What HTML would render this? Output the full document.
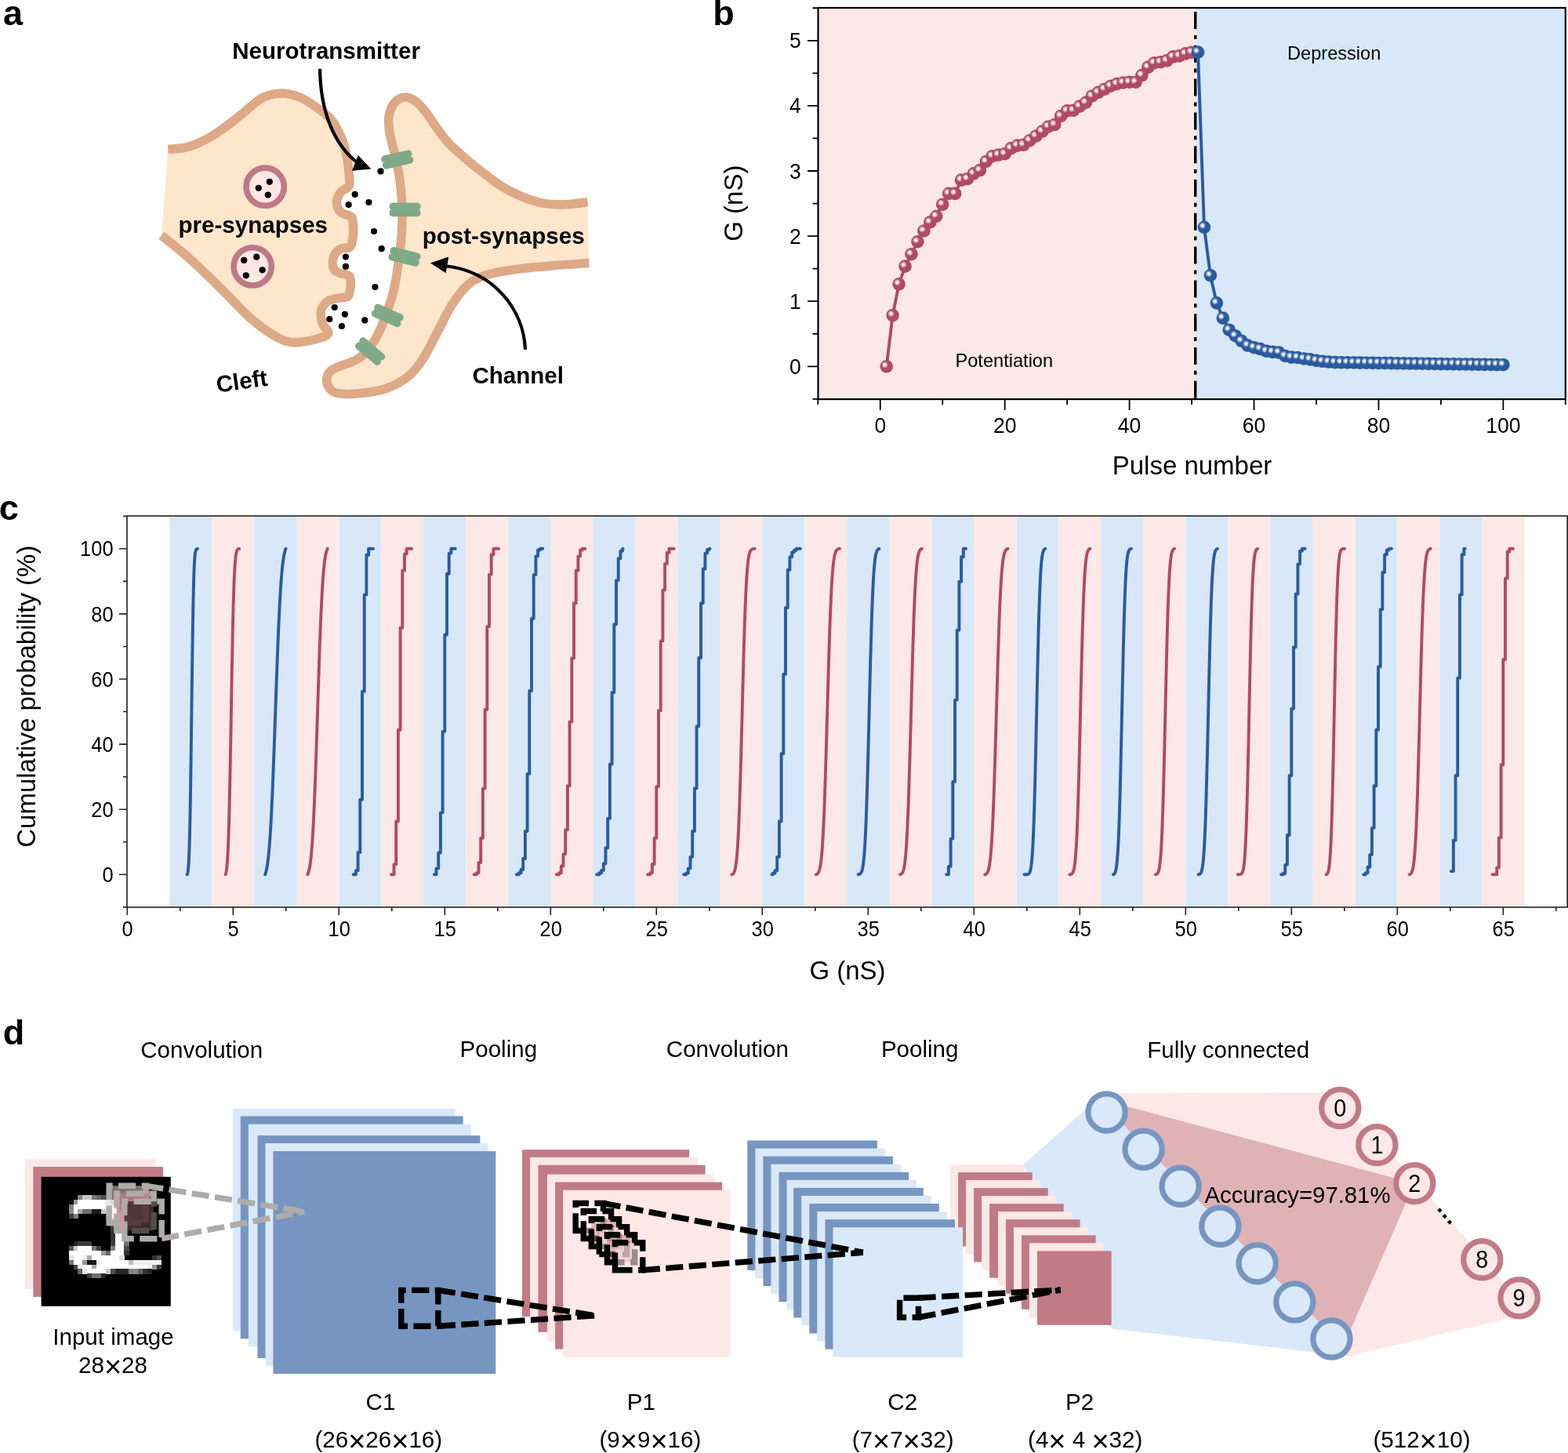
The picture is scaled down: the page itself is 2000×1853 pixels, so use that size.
<!DOCTYPE html>
<html lang="en">
<head>
<meta charset="utf-8">
<title>Figure</title>
<style>
html,body{margin:0;padding:0;background:#fff;}
body{width:2000px;height:1853px;overflow:hidden;}
svg{display:block;}
svg text{font-family:"Liberation Sans", Arial, Helvetica, sans-serif;fill:#000;}
</style>
</head>
<body>
<svg xmlns="http://www.w3.org/2000/svg" width="2000" height="1853" viewBox="0 0 2000 1853">
<defs>
<radialGradient id="gr" cx="0.37" cy="0.375" r="0.56" fx="0.37" fy="0.375">
<stop offset="0" stop-color="#ffffff"/><stop offset="0.13" stop-color="#fdf4f6"/><stop offset="0.3" stop-color="#d9a0ae"/><stop offset="0.48" stop-color="#B04A64"/><stop offset="1" stop-color="#B04A64"/>
</radialGradient>
<radialGradient id="gb" cx="0.37" cy="0.375" r="0.56" fx="0.37" fy="0.375">
<stop offset="0" stop-color="#ffffff"/><stop offset="0.13" stop-color="#f3f6fb"/><stop offset="0.3" stop-color="#93aad0"/><stop offset="0.48" stop-color="#2A5A9F"/><stop offset="1" stop-color="#2A5A9F"/>
</radialGradient>
<filter id="blur" x="-5%" y="-5%" width="110%" height="110%"><feGaussianBlur stdDeviation="0.55"/></filter>
<clipPath id="clipimg"><rect x="52.6" y="1500.8" width="165.2" height="165"/></clipPath>
</defs>
<rect x="0" y="0" width="2000" height="1853" fill="#fff"/>
<g id="panel-a">
<path d="M749.5,257.6C745.58,258.1 733.48,260.1 726,260.6C718.52,261.1 710.77,260.98 704.6,260.6C698.43,260.22 694.03,259.38 689,258.3C683.97,257.22 679.23,255.78 674.4,254.1C669.57,252.42 664.8,250.37 660,248.2C655.2,246.03 650.43,243.87 645.6,241.1C640.77,238.33 635.8,235 631,231.6C626.2,228.2 621.63,224.42 616.8,220.7C611.97,216.98 606.73,213.17 602,209.3C597.27,205.43 592.15,200.8 588.4,197.5C584.65,194.2 582.37,192.18 579.5,189.5C576.63,186.82 573.78,184.23 571.2,181.4C568.62,178.57 566.33,175.53 564,172.5C561.67,169.47 559.28,166.12 557.2,163.2C555.12,160.28 553.37,157.7 551.5,155C549.63,152.3 547.67,149.33 546,147C544.33,144.67 543.03,142.93 541.5,141C539.97,139.07 538.42,137.17 536.8,135.4C535.18,133.63 533.55,131.85 531.8,130.4C530.05,128.95 528.02,127.65 526.3,126.7C524.58,125.75 523.13,125.15 521.5,124.7C519.87,124.25 518,124.02 516.5,124C515,123.98 513.78,124.2 512.5,124.6C511.22,125 510,125.68 508.8,126.4C507.6,127.12 506.35,127.97 505.3,128.9C504.25,129.83 503.47,130.68 502.5,132C501.53,133.32 500.33,135.12 499.5,136.8C498.67,138.48 498.08,140.07 497.5,142.1C496.92,144.13 496.3,146.67 496,149C495.7,151.33 495.57,152.93 495.7,156.1C495.83,159.27 496.07,163.5 496.8,168C497.53,172.5 498.58,176.7 500.1,183.1C501.62,189.5 504.17,197.87 505.9,206.4C507.63,214.93 509.33,224.62 510.5,234.3C511.67,243.98 512.62,253.65 512.9,264.5C513.18,275.35 512.98,287.75 512.2,299.4C511.42,311.05 509.83,322.75 508.2,334.4C506.57,346.05 504.92,358.45 502.4,369.3C499.88,380.15 496.58,389.82 493.1,399.5C489.62,409.18 485.77,419.25 481.5,427.4C477.23,435.55 472.17,443.05 467.5,448.4C462.83,453.75 458.93,456.48 453.5,459.5C448.07,462.52 440.23,464.25 434.9,466.5C429.57,468.75 424.55,470.03 421.5,473C418.45,475.97 416.8,480.6 416.6,484.3C416.4,488 418.02,492.35 420.3,495.2C422.58,498.05 423.98,500.3 430.3,501.4C436.62,502.5 447.73,502.82 458.2,501.8C468.67,500.78 482.63,498.97 493.1,495.3C503.57,491.63 513.25,486.07 521,479.8C528.75,473.53 533.38,467.2 539.6,457.7C545.82,448.2 552.08,434.43 558.3,422.8C564.52,411.17 570.32,397.98 576.9,387.9C583.48,377.82 590.43,368.52 597.8,362.3C605.17,356.08 611.4,353.7 621.1,350.6C630.8,347.5 642.43,345.63 656,343.7C669.57,341.77 686.6,340.37 702.5,339C718.4,337.63 743.25,336.08 751.4,335.5Z" fill="#FEE6CB" stroke="none"/>
<path d="M749.5,257.6C745.58,258.1 733.48,260.1 726,260.6C718.52,261.1 710.77,260.98 704.6,260.6C698.43,260.22 694.03,259.38 689,258.3C683.97,257.22 679.23,255.78 674.4,254.1C669.57,252.42 664.8,250.37 660,248.2C655.2,246.03 650.43,243.87 645.6,241.1C640.77,238.33 635.8,235 631,231.6C626.2,228.2 621.63,224.42 616.8,220.7C611.97,216.98 606.73,213.17 602,209.3C597.27,205.43 592.15,200.8 588.4,197.5C584.65,194.2 582.37,192.18 579.5,189.5C576.63,186.82 573.78,184.23 571.2,181.4C568.62,178.57 566.33,175.53 564,172.5C561.67,169.47 559.28,166.12 557.2,163.2C555.12,160.28 553.37,157.7 551.5,155C549.63,152.3 547.67,149.33 546,147C544.33,144.67 543.03,142.93 541.5,141C539.97,139.07 538.42,137.17 536.8,135.4C535.18,133.63 533.55,131.85 531.8,130.4C530.05,128.95 528.02,127.65 526.3,126.7C524.58,125.75 523.13,125.15 521.5,124.7C519.87,124.25 518,124.02 516.5,124C515,123.98 513.78,124.2 512.5,124.6C511.22,125 510,125.68 508.8,126.4C507.6,127.12 506.35,127.97 505.3,128.9C504.25,129.83 503.47,130.68 502.5,132C501.53,133.32 500.33,135.12 499.5,136.8C498.67,138.48 498.08,140.07 497.5,142.1C496.92,144.13 496.3,146.67 496,149C495.7,151.33 495.57,152.93 495.7,156.1C495.83,159.27 496.07,163.5 496.8,168C497.53,172.5 498.58,176.7 500.1,183.1C501.62,189.5 504.17,197.87 505.9,206.4C507.63,214.93 509.33,224.62 510.5,234.3C511.67,243.98 512.62,253.65 512.9,264.5C513.18,275.35 512.98,287.75 512.2,299.4C511.42,311.05 509.83,322.75 508.2,334.4C506.57,346.05 504.92,358.45 502.4,369.3C499.88,380.15 496.58,389.82 493.1,399.5C489.62,409.18 485.77,419.25 481.5,427.4C477.23,435.55 472.17,443.05 467.5,448.4C462.83,453.75 458.93,456.48 453.5,459.5C448.07,462.52 440.23,464.25 434.9,466.5C429.57,468.75 424.55,470.03 421.5,473C418.45,475.97 416.8,480.6 416.6,484.3C416.4,488 418.02,492.35 420.3,495.2C422.58,498.05 423.98,500.3 430.3,501.4C436.62,502.5 447.73,502.82 458.2,501.8C468.67,500.78 482.63,498.97 493.1,495.3C503.57,491.63 513.25,486.07 521,479.8C528.75,473.53 533.38,467.2 539.6,457.7C545.82,448.2 552.08,434.43 558.3,422.8C564.52,411.17 570.32,397.98 576.9,387.9C583.48,377.82 590.43,368.52 597.8,362.3C605.17,356.08 611.4,353.7 621.1,350.6C630.8,347.5 642.43,345.63 656,343.7C669.57,341.77 686.6,340.37 702.5,339C718.4,337.63 743.25,336.08 751.4,335.5" fill="none" stroke="#DDA986" stroke-width="11.5" stroke-linecap="butt" stroke-linejoin="round"/>
<path d="M214.4,190.4C218.68,189.88 230.82,190.1 240.1,187.3C249.38,184.5 260.1,179.43 270.1,173.6C280.1,167.77 290.08,159.98 300.1,152.3C310.12,144.62 322.72,132.72 330.2,127.5C337.68,122.28 340,122.42 345,121C350,119.58 355.2,118.92 360.2,119C365.2,119.08 369.98,120 375,121.5C380.02,123 382.75,123.23 390.3,128C397.85,132.77 413.18,143.1 420.3,150.1C427.42,157.1 429.83,164.02 433,170C436.17,175.98 437.63,180.5 439.3,186C440.97,191.5 442.08,197.87 443,203C443.92,208.13 444.33,212.2 444.8,216.8C445.27,221.4 445.63,227.4 445.8,230.6C445.97,233.8 446.27,234.52 445.8,236C445.33,237.48 444.77,238.1 443,239.5C441.23,240.9 437.35,242.05 435.2,244.4C433.05,246.75 430.95,250.53 430.1,253.6C429.25,256.67 429.25,259.88 430.1,262.8C430.95,265.72 432.82,269.12 435.2,271.1C437.58,273.08 442.1,273.63 444.4,274.7C446.7,275.77 448,275.65 449,277.5C450,279.35 450.1,282.88 450.4,285.8C450.7,288.72 450.88,291.93 450.8,295C450.72,298.07 450.28,301.45 449.9,304.2C449.52,306.95 449.42,309.52 448.5,311.5C447.58,313.48 446.32,315.28 444.4,316.1C442.48,316.92 439.45,315.63 437,316.4C434.55,317.17 431.68,318.6 429.7,320.7C427.72,322.8 425.95,326.08 425.1,329C424.25,331.92 424.3,335.6 424.6,338.2C424.9,340.8 425.45,342.92 426.9,344.6C428.35,346.28 430.95,347.4 433.3,348.3C435.65,349.2 438.83,349.13 441,350C443.17,350.87 445.25,351.12 446.3,353.5C447.35,355.88 447.43,360.88 447.3,364.3C447.17,367.72 446.3,371.58 445.5,374C444.7,376.42 445.03,377.75 442.5,378.8C439.97,379.85 434.05,379.6 430.3,380.3C426.55,381 422.67,381.82 420,383C417.33,384.18 416,385.4 414.3,387.4C412.6,389.4 410.63,392.5 409.8,395C408.97,397.5 409.18,399.9 409.3,402.4C409.42,404.9 409.83,407.67 410.5,410C411.17,412.33 412.05,414.4 413.3,416.4C414.55,418.4 417.17,420.4 418,422C418.83,423.6 419.58,424.6 418.3,426C417.02,427.4 414.97,428.83 410.3,430.4C405.63,431.97 396.98,434.4 390.3,435.4C383.62,436.4 376.88,437.57 370.2,436.4C363.52,435.23 358.53,433.4 350.2,428.4C341.87,423.4 331.88,416.75 320.2,406.4C308.52,396.05 293.45,379.32 280.1,366.3C266.75,353.28 252.45,339.3 240.1,328.3C227.75,317.3 211.68,304.97 206,300.3Z" fill="#FEE6CB" stroke="none"/>
<path d="M214.4,190.4C218.68,189.88 230.82,190.1 240.1,187.3C249.38,184.5 260.1,179.43 270.1,173.6C280.1,167.77 290.08,159.98 300.1,152.3C310.12,144.62 322.72,132.72 330.2,127.5C337.68,122.28 340,122.42 345,121C350,119.58 355.2,118.92 360.2,119C365.2,119.08 369.98,120 375,121.5C380.02,123 382.75,123.23 390.3,128C397.85,132.77 413.18,143.1 420.3,150.1C427.42,157.1 429.83,164.02 433,170C436.17,175.98 437.63,180.5 439.3,186C440.97,191.5 442.08,197.87 443,203C443.92,208.13 444.33,212.2 444.8,216.8C445.27,221.4 445.63,227.4 445.8,230.6C445.97,233.8 446.27,234.52 445.8,236C445.33,237.48 444.77,238.1 443,239.5C441.23,240.9 437.35,242.05 435.2,244.4C433.05,246.75 430.95,250.53 430.1,253.6C429.25,256.67 429.25,259.88 430.1,262.8C430.95,265.72 432.82,269.12 435.2,271.1C437.58,273.08 442.1,273.63 444.4,274.7C446.7,275.77 448,275.65 449,277.5C450,279.35 450.1,282.88 450.4,285.8C450.7,288.72 450.88,291.93 450.8,295C450.72,298.07 450.28,301.45 449.9,304.2C449.52,306.95 449.42,309.52 448.5,311.5C447.58,313.48 446.32,315.28 444.4,316.1C442.48,316.92 439.45,315.63 437,316.4C434.55,317.17 431.68,318.6 429.7,320.7C427.72,322.8 425.95,326.08 425.1,329C424.25,331.92 424.3,335.6 424.6,338.2C424.9,340.8 425.45,342.92 426.9,344.6C428.35,346.28 430.95,347.4 433.3,348.3C435.65,349.2 438.83,349.13 441,350C443.17,350.87 445.25,351.12 446.3,353.5C447.35,355.88 447.43,360.88 447.3,364.3C447.17,367.72 446.3,371.58 445.5,374C444.7,376.42 445.03,377.75 442.5,378.8C439.97,379.85 434.05,379.6 430.3,380.3C426.55,381 422.67,381.82 420,383C417.33,384.18 416,385.4 414.3,387.4C412.6,389.4 410.63,392.5 409.8,395C408.97,397.5 409.18,399.9 409.3,402.4C409.42,404.9 409.83,407.67 410.5,410C411.17,412.33 412.05,414.4 413.3,416.4C414.55,418.4 417.17,420.4 418,422C418.83,423.6 419.58,424.6 418.3,426C417.02,427.4 414.97,428.83 410.3,430.4C405.63,431.97 396.98,434.4 390.3,435.4C383.62,436.4 376.88,437.57 370.2,436.4C363.52,435.23 358.53,433.4 350.2,428.4C341.87,423.4 331.88,416.75 320.2,406.4C308.52,396.05 293.45,379.32 280.1,366.3C266.75,353.28 252.45,339.3 240.1,328.3C227.75,317.3 211.68,304.97 206,300.3" fill="none" stroke="#DDA986" stroke-width="11.5" stroke-linecap="butt" stroke-linejoin="round"/>
<circle cx="338.2" cy="238.2" r="24.1" fill="#FCE7E5" stroke="#BD7A86" stroke-width="7.6"/>
<circle cx="343.8" cy="231.8" r="4.1"/>
<circle cx="329.8" cy="239.8" r="4.1"/>
<circle cx="341.8" cy="248.6" r="4.1"/>
<circle cx="322.2" cy="339.9" r="24.1" fill="#FCE7E5" stroke="#BD7A86" stroke-width="7.6"/>
<circle cx="327.2" cy="327.7" r="4.1"/>
<circle cx="311.2" cy="331.9" r="4.1"/>
<circle cx="334.6" cy="344.3" r="4.1"/>
<circle cx="313.8" cy="351.3" r="4.1"/>
<circle cx="485.5" cy="218.4" r="4.1"/>
<circle cx="452.7" cy="247.9" r="4.1"/>
<circle cx="444.7" cy="261.1" r="4.1"/>
<circle cx="470.4" cy="258" r="4.1"/>
<circle cx="477" cy="295" r="4.1"/>
<circle cx="486.7" cy="317.2" r="4.1"/>
<circle cx="440.9" cy="327.6" r="4.1"/>
<circle cx="440.9" cy="339.9" r="4.1"/>
<circle cx="478.4" cy="366" r="4.1"/>
<circle cx="426.7" cy="392" r="4.1"/>
<circle cx="439.9" cy="400.8" r="4.1"/>
<circle cx="420.3" cy="407" r="4.1"/>
<circle cx="435.9" cy="416" r="4.1"/>
<circle cx="465.3" cy="408.4" r="4.1"/>
<g transform="translate(506.7 203.5) rotate(-13)" fill="#7EAA87"><rect x="-20" y="-8.8" width="40" height="9.4" rx="4.4"/><rect x="-20" y="-0.6" width="40" height="9.4" rx="4.4"/></g>
<g transform="translate(516.6 267.4) rotate(0)" fill="#7EAA87"><rect x="-20" y="-8.8" width="40" height="9.4" rx="4.4"/><rect x="-20" y="-0.6" width="40" height="9.4" rx="4.4"/></g>
<g transform="translate(516.1 327.4) rotate(14)" fill="#7EAA87"><rect x="-20" y="-8.8" width="40" height="9.4" rx="4.4"/><rect x="-20" y="-0.6" width="40" height="9.4" rx="4.4"/></g>
<g transform="translate(494.3 402.3) rotate(24)" fill="#7EAA87"><rect x="-20" y="-8.8" width="40" height="9.4" rx="4.4"/><rect x="-20" y="-0.6" width="40" height="9.4" rx="4.4"/></g>
<g transform="translate(472.1 448.1) rotate(40)" fill="#7EAA87"><rect x="-20" y="-8.8" width="40" height="9.4" rx="4.4"/><rect x="-20" y="-0.6" width="40" height="9.4" rx="4.4"/></g>
<path d="M408.1,87.8C408.5,140 425,185 458,209" fill="none" stroke="#000" stroke-width="4.2"/>
<path d="M473.4,215.4L456.8,197.9L449,217.7Z" fill="#000"/>
<path d="M670,445.8C668,395 630,345 566,339" fill="none" stroke="#000" stroke-width="4.2"/>
<path d="M549,335.5L572.2,327.4L568.7,348.3Z" fill="#000"/>
<text x="296.2" y="74.6" font-size="29.55" font-weight="bold">Neurotransmitter</text>
<text x="227.5" y="297.2" font-size="29.55" font-weight="bold">pre-synapses</text>
<text x="538.7" y="311" font-size="29.55" font-weight="bold">post-synapses</text>
<text x="602.4" y="488.7" font-size="29.55" font-weight="bold">Channel</text>
<text x="277.2" y="500.7" font-size="29.55" font-weight="bold" transform="rotate(-8 277.2 500.7)">Cleft</text>
</g>
<g id="panel-b">
<rect x="1043.5" y="10" width="481.9" height="499.1" fill="#FCE8E7"/>
<rect x="1525.4" y="10" width="471.4" height="499.1" fill="#D8E8F8"/>
<line x1="1524.7" y1="10" x2="1524.7" y2="509.1" stroke="#000" stroke-width="3.4" stroke-dasharray="22 7.8 5 8" stroke-dashoffset="37.8"/>
<polyline fill="none" stroke="#B04A64" stroke-width="3.9" stroke-linejoin="round" points="1130.71,467.3 1138.65,402.07 1146.6,362.26 1154.54,339.58 1162.49,324.2 1170.44,308.25 1178.38,294.45 1186.33,283.4 1194.27,275.75 1202.22,260.71 1210.17,246.92 1218.11,246.92 1226.06,229.63 1234,228.22 1241.95,221.32 1249.9,217.17 1257.84,205.95 1265.79,199.22 1273.73,197.47 1281.68,196.23 1289.63,189.16 1297.57,185.59 1305.52,184.76 1313.46,179.19 1321.41,173.46 1329.36,167.56 1337.3,161.49 1345.25,159 1353.19,147.95 1361.14,141.3 1369.09,140.8 1377.03,135.56 1384.98,130.75 1392.92,122.44 1400.87,117.78 1408.82,113.71 1416.76,109.72 1424.71,106.98 1432.65,105.48 1440.6,104.73 1448.55,104.73 1456.49,96.01 1464.44,85.62 1472.38,80.22 1480.33,79.22 1488.28,77.39 1496.22,72.41 1504.17,71.41 1512.11,68.42 1520.06,66.76"/>
<circle cx="1130.71" cy="467.3" r="8.3" fill="url(#gr)"/>
<circle cx="1138.65" cy="402.07" r="8.3" fill="url(#gr)"/>
<circle cx="1146.6" cy="362.26" r="8.3" fill="url(#gr)"/>
<circle cx="1154.54" cy="339.58" r="8.3" fill="url(#gr)"/>
<circle cx="1162.49" cy="324.2" r="8.3" fill="url(#gr)"/>
<circle cx="1170.44" cy="308.25" r="8.3" fill="url(#gr)"/>
<circle cx="1178.38" cy="294.45" r="8.3" fill="url(#gr)"/>
<circle cx="1186.33" cy="283.4" r="8.3" fill="url(#gr)"/>
<circle cx="1194.27" cy="275.75" r="8.3" fill="url(#gr)"/>
<circle cx="1202.22" cy="260.71" r="8.3" fill="url(#gr)"/>
<circle cx="1210.17" cy="246.92" r="8.3" fill="url(#gr)"/>
<circle cx="1218.11" cy="246.92" r="8.3" fill="url(#gr)"/>
<circle cx="1226.06" cy="229.63" r="8.3" fill="url(#gr)"/>
<circle cx="1234" cy="228.22" r="8.3" fill="url(#gr)"/>
<circle cx="1241.95" cy="221.32" r="8.3" fill="url(#gr)"/>
<circle cx="1249.9" cy="217.17" r="8.3" fill="url(#gr)"/>
<circle cx="1257.84" cy="205.95" r="8.3" fill="url(#gr)"/>
<circle cx="1265.79" cy="199.22" r="8.3" fill="url(#gr)"/>
<circle cx="1273.73" cy="197.47" r="8.3" fill="url(#gr)"/>
<circle cx="1281.68" cy="196.23" r="8.3" fill="url(#gr)"/>
<circle cx="1289.63" cy="189.16" r="8.3" fill="url(#gr)"/>
<circle cx="1297.57" cy="185.59" r="8.3" fill="url(#gr)"/>
<circle cx="1305.52" cy="184.76" r="8.3" fill="url(#gr)"/>
<circle cx="1313.46" cy="179.19" r="8.3" fill="url(#gr)"/>
<circle cx="1321.41" cy="173.46" r="8.3" fill="url(#gr)"/>
<circle cx="1329.36" cy="167.56" r="8.3" fill="url(#gr)"/>
<circle cx="1337.3" cy="161.49" r="8.3" fill="url(#gr)"/>
<circle cx="1345.25" cy="159" r="8.3" fill="url(#gr)"/>
<circle cx="1353.19" cy="147.95" r="8.3" fill="url(#gr)"/>
<circle cx="1361.14" cy="141.3" r="8.3" fill="url(#gr)"/>
<circle cx="1369.09" cy="140.8" r="8.3" fill="url(#gr)"/>
<circle cx="1377.03" cy="135.56" r="8.3" fill="url(#gr)"/>
<circle cx="1384.98" cy="130.75" r="8.3" fill="url(#gr)"/>
<circle cx="1392.92" cy="122.44" r="8.3" fill="url(#gr)"/>
<circle cx="1400.87" cy="117.78" r="8.3" fill="url(#gr)"/>
<circle cx="1408.82" cy="113.71" r="8.3" fill="url(#gr)"/>
<circle cx="1416.76" cy="109.72" r="8.3" fill="url(#gr)"/>
<circle cx="1424.71" cy="106.98" r="8.3" fill="url(#gr)"/>
<circle cx="1432.65" cy="105.48" r="8.3" fill="url(#gr)"/>
<circle cx="1440.6" cy="104.73" r="8.3" fill="url(#gr)"/>
<circle cx="1448.55" cy="104.73" r="8.3" fill="url(#gr)"/>
<circle cx="1456.49" cy="96.01" r="8.3" fill="url(#gr)"/>
<circle cx="1464.44" cy="85.62" r="8.3" fill="url(#gr)"/>
<circle cx="1472.38" cy="80.22" r="8.3" fill="url(#gr)"/>
<circle cx="1480.33" cy="79.22" r="8.3" fill="url(#gr)"/>
<circle cx="1488.28" cy="77.39" r="8.3" fill="url(#gr)"/>
<circle cx="1496.22" cy="72.41" r="8.3" fill="url(#gr)"/>
<circle cx="1504.17" cy="71.41" r="8.3" fill="url(#gr)"/>
<circle cx="1512.11" cy="68.42" r="8.3" fill="url(#gr)"/>
<circle cx="1520.06" cy="66.76" r="8.3" fill="url(#gr)"/>
<polyline fill="none" stroke="#2A5A9F" stroke-width="3.9" stroke-linejoin="round" points="1528.01,66.51 1535.95,289.8 1543.9,351.21 1551.84,386.36 1559.79,405.64 1567.74,420.68 1575.68,428.24 1583.63,434.81 1591.57,440.54 1599.52,443.2 1607.47,445.03 1615.41,447.77 1623.36,448.85 1631.3,449.52 1639.25,454 1647.2,455.58 1655.14,456 1663.09,457.49 1671.03,458.33 1678.98,459.82 1686.93,460.82 1694.87,461.57 1702.82,462.15 1710.76,462.26 1718.71,462.38 1726.66,462.49 1734.6,462.6 1742.55,462.72 1750.49,462.83 1758.44,462.94 1766.39,463.06 1774.33,463.17 1782.28,463.29 1790.22,463.4 1798.17,463.51 1806.12,463.63 1814.06,463.74 1822.01,463.86 1829.95,463.97 1837.9,464.08 1845.85,464.2 1853.79,464.31 1861.74,464.43 1869.68,464.54 1877.63,464.65 1885.58,464.77 1893.52,464.88 1901.47,464.99 1909.41,465.11 1917.36,465.22"/>
<circle cx="1528.01" cy="66.51" r="8.3" fill="url(#gb)"/>
<circle cx="1535.95" cy="289.8" r="8.3" fill="url(#gb)"/>
<circle cx="1543.9" cy="351.21" r="8.3" fill="url(#gb)"/>
<circle cx="1551.84" cy="386.36" r="8.3" fill="url(#gb)"/>
<circle cx="1559.79" cy="405.64" r="8.3" fill="url(#gb)"/>
<circle cx="1567.74" cy="420.68" r="8.3" fill="url(#gb)"/>
<circle cx="1575.68" cy="428.24" r="8.3" fill="url(#gb)"/>
<circle cx="1583.63" cy="434.81" r="8.3" fill="url(#gb)"/>
<circle cx="1591.57" cy="440.54" r="8.3" fill="url(#gb)"/>
<circle cx="1599.52" cy="443.2" r="8.3" fill="url(#gb)"/>
<circle cx="1607.47" cy="445.03" r="8.3" fill="url(#gb)"/>
<circle cx="1615.41" cy="447.77" r="8.3" fill="url(#gb)"/>
<circle cx="1623.36" cy="448.85" r="8.3" fill="url(#gb)"/>
<circle cx="1631.3" cy="449.52" r="8.3" fill="url(#gb)"/>
<circle cx="1639.25" cy="454" r="8.3" fill="url(#gb)"/>
<circle cx="1647.2" cy="455.58" r="8.3" fill="url(#gb)"/>
<circle cx="1655.14" cy="456" r="8.3" fill="url(#gb)"/>
<circle cx="1663.09" cy="457.49" r="8.3" fill="url(#gb)"/>
<circle cx="1671.03" cy="458.33" r="8.3" fill="url(#gb)"/>
<circle cx="1678.98" cy="459.82" r="8.3" fill="url(#gb)"/>
<circle cx="1686.93" cy="460.82" r="8.3" fill="url(#gb)"/>
<circle cx="1694.87" cy="461.57" r="8.3" fill="url(#gb)"/>
<circle cx="1702.82" cy="462.15" r="8.3" fill="url(#gb)"/>
<circle cx="1710.76" cy="462.26" r="8.3" fill="url(#gb)"/>
<circle cx="1718.71" cy="462.38" r="8.3" fill="url(#gb)"/>
<circle cx="1726.66" cy="462.49" r="8.3" fill="url(#gb)"/>
<circle cx="1734.6" cy="462.6" r="8.3" fill="url(#gb)"/>
<circle cx="1742.55" cy="462.72" r="8.3" fill="url(#gb)"/>
<circle cx="1750.49" cy="462.83" r="8.3" fill="url(#gb)"/>
<circle cx="1758.44" cy="462.94" r="8.3" fill="url(#gb)"/>
<circle cx="1766.39" cy="463.06" r="8.3" fill="url(#gb)"/>
<circle cx="1774.33" cy="463.17" r="8.3" fill="url(#gb)"/>
<circle cx="1782.28" cy="463.29" r="8.3" fill="url(#gb)"/>
<circle cx="1790.22" cy="463.4" r="8.3" fill="url(#gb)"/>
<circle cx="1798.17" cy="463.51" r="8.3" fill="url(#gb)"/>
<circle cx="1806.12" cy="463.63" r="8.3" fill="url(#gb)"/>
<circle cx="1814.06" cy="463.74" r="8.3" fill="url(#gb)"/>
<circle cx="1822.01" cy="463.86" r="8.3" fill="url(#gb)"/>
<circle cx="1829.95" cy="463.97" r="8.3" fill="url(#gb)"/>
<circle cx="1837.9" cy="464.08" r="8.3" fill="url(#gb)"/>
<circle cx="1845.85" cy="464.2" r="8.3" fill="url(#gb)"/>
<circle cx="1853.79" cy="464.31" r="8.3" fill="url(#gb)"/>
<circle cx="1861.74" cy="464.43" r="8.3" fill="url(#gb)"/>
<circle cx="1869.68" cy="464.54" r="8.3" fill="url(#gb)"/>
<circle cx="1877.63" cy="464.65" r="8.3" fill="url(#gb)"/>
<circle cx="1885.58" cy="464.77" r="8.3" fill="url(#gb)"/>
<circle cx="1893.52" cy="464.88" r="8.3" fill="url(#gb)"/>
<circle cx="1901.47" cy="464.99" r="8.3" fill="url(#gb)"/>
<circle cx="1909.41" cy="465.11" r="8.3" fill="url(#gb)"/>
<circle cx="1917.36" cy="465.22" r="8.3" fill="url(#gb)"/>
<rect x="1043.5" y="10" width="953.3" height="499.1" fill="none" stroke="#000" stroke-width="2.2"/>
<path d="M1043.5,508.85h-7M1043.5,467.3h-13.5M1043.5,425.75h-7M1043.5,384.2h-13.5M1043.5,342.65h-7M1043.5,301.1h-13.5M1043.5,259.55h-7M1043.5,218h-13.5M1043.5,176.45h-7M1043.5,134.9h-13.5M1043.5,93.35h-7M1043.5,51.8h-13.5M1043.5,10.25h-7M1043.3,509.1v7M1122.76,509.1v13.8M1202.22,509.1v7M1281.68,509.1v13.8M1361.14,509.1v7M1440.6,509.1v13.8M1520.06,509.1v7M1599.52,509.1v13.8M1678.98,509.1v7M1758.44,509.1v13.8M1837.9,509.1v7M1917.36,509.1v13.8M1996.82,509.1v7" stroke="#000" stroke-width="1.8" fill="none"/>
<text transform="translate(1021.7 476.8) scale(0.93 1)" font-size="28.54" text-anchor="end">0</text>
<text transform="translate(1021.7 393.7) scale(0.93 1)" font-size="28.54" text-anchor="end">1</text>
<text transform="translate(1021.7 310.6) scale(0.93 1)" font-size="28.54" text-anchor="end">2</text>
<text transform="translate(1021.7 227.5) scale(0.93 1)" font-size="28.54" text-anchor="end">3</text>
<text transform="translate(1021.7 144.4) scale(0.93 1)" font-size="28.54" text-anchor="end">4</text>
<text transform="translate(1021.7 61.3) scale(0.93 1)" font-size="28.54" text-anchor="end">5</text>
<text transform="translate(1122.76 552.4) scale(0.93 1)" font-size="28.54" text-anchor="middle">0</text>
<text transform="translate(1281.68 552.4) scale(0.93 1)" font-size="28.54" text-anchor="middle">20</text>
<text transform="translate(1440.6 552.4) scale(0.93 1)" font-size="28.54" text-anchor="middle">40</text>
<text transform="translate(1599.52 552.4) scale(0.93 1)" font-size="28.54" text-anchor="middle">60</text>
<text transform="translate(1758.44 552.4) scale(0.93 1)" font-size="28.54" text-anchor="middle">80</text>
<text transform="translate(1917.36 552.4) scale(0.93 1)" font-size="28.54" text-anchor="middle">100</text>
<text x="1520.5" y="604.7" font-size="33" text-anchor="middle">Pulse number</text>
<text x="947.4" y="259.2" font-size="33" text-anchor="middle" transform="rotate(-90 947.4 259.2)">G (nS)</text>
<text x="1218.5" y="468.1" font-size="23.6">Potentiation</text>
<text x="1642" y="76" font-size="23.6">Depression</text>
<text x="4" y="31.9" font-size="45" font-weight="bold">a</text>
<text x="909.2" y="32.4" font-size="45" font-weight="bold">b</text>
</g>
<g id="panel-c">
<rect x="216.4" y="658" width="54.2" height="499" fill="#D8E8F8"/>
<rect x="270.4" y="658" width="54.2" height="499" fill="#FCE8E7"/>
<rect x="324.4" y="658" width="54.2" height="499" fill="#D8E8F8"/>
<rect x="378.4" y="658" width="54.2" height="499" fill="#FCE8E7"/>
<rect x="432.4" y="658" width="54.2" height="499" fill="#D8E8F8"/>
<rect x="486.4" y="658" width="54.2" height="499" fill="#FCE8E7"/>
<rect x="540.4" y="658" width="54.2" height="499" fill="#D8E8F8"/>
<rect x="594.4" y="658" width="54.2" height="499" fill="#FCE8E7"/>
<rect x="648.4" y="658" width="54.2" height="499" fill="#D8E8F8"/>
<rect x="702.4" y="658" width="54.2" height="499" fill="#FCE8E7"/>
<rect x="756.4" y="658" width="54.2" height="499" fill="#D8E8F8"/>
<rect x="810.4" y="658" width="54.2" height="499" fill="#FCE8E7"/>
<rect x="864.4" y="658" width="54.2" height="499" fill="#D8E8F8"/>
<rect x="918.4" y="658" width="54.2" height="499" fill="#FCE8E7"/>
<rect x="972.4" y="658" width="54.2" height="499" fill="#D8E8F8"/>
<rect x="1026.4" y="658" width="54.2" height="499" fill="#FCE8E7"/>
<rect x="1080.4" y="658" width="54.2" height="499" fill="#D8E8F8"/>
<rect x="1134.4" y="658" width="54.2" height="499" fill="#FCE8E7"/>
<rect x="1188.4" y="658" width="54.2" height="499" fill="#D8E8F8"/>
<rect x="1242.4" y="658" width="54.2" height="499" fill="#FCE8E7"/>
<rect x="1296.4" y="658" width="54.2" height="499" fill="#D8E8F8"/>
<rect x="1350.4" y="658" width="54.2" height="499" fill="#FCE8E7"/>
<rect x="1404.4" y="658" width="54.2" height="499" fill="#D8E8F8"/>
<rect x="1458.4" y="658" width="54.2" height="499" fill="#FCE8E7"/>
<rect x="1512.4" y="658" width="54.2" height="499" fill="#D8E8F8"/>
<rect x="1566.4" y="658" width="54.2" height="499" fill="#FCE8E7"/>
<rect x="1620.4" y="658" width="54.2" height="499" fill="#D8E8F8"/>
<rect x="1674.4" y="658" width="54.2" height="499" fill="#FCE8E7"/>
<rect x="1728.4" y="658" width="54.2" height="499" fill="#D8E8F8"/>
<rect x="1782.4" y="658" width="54.2" height="499" fill="#FCE8E7"/>
<rect x="1836.4" y="658" width="54.2" height="499" fill="#D8E8F8"/>
<rect x="1890.4" y="658" width="54.2" height="499" fill="#FCE8E7"/>
<path d="M238.71,1115.3L238.82,1115.05L238.93,1114.76L239.04,1114.44L239.15,1114.06L239.26,1113.64L239.37,1113.15L239.48,1112.6L239.59,1111.98L239.7,1111.29L239.81,1110.5L239.92,1109.63L240.03,1108.65L240.14,1107.55L240.25,1106.34L240.36,1105L240.47,1103.51L240.58,1101.87L240.69,1100.07L240.8,1098.1L240.92,1095.95L241.03,1093.6L241.14,1091.04L241.25,1088.28L241.36,1085.29L241.47,1082.06L241.58,1078.59L241.69,1074.88L241.8,1070.9L241.91,1066.66L242.02,1062.16L242.13,1057.38L242.24,1052.32L242.35,1046.99L242.46,1041.39L242.57,1035.5L242.68,1029.35L242.79,1022.93L242.9,1016.26L243.01,1009.33L243.12,1002.17L243.23,994.77L243.34,987.16L243.45,979.35L243.56,971.36L243.67,963.21L243.78,954.91L243.89,946.49L244,937.96L244.11,929.35L244.22,920.69L244.33,911.99L244.44,903.28L244.55,894.58L244.66,885.93L244.77,877.33L244.88,868.82L244.99,860.41L245.1,852.13L245.21,844L245.32,836.03L245.44,828.25L245.55,820.67L245.66,813.31L245.77,806.17L245.88,799.28L245.99,792.64L246.1,786.26L246.21,780.15L246.32,774.31L246.43,768.74L246.54,763.45L246.65,758.43L246.76,753.69L246.87,749.23L246.98,745.03L247.09,741.09L247.2,737.41L247.31,733.97L247.42,730.78L247.53,727.82L247.64,725.09L247.75,722.57L247.86,720.24L247.97,718.12L248.08,716.17L248.19,714.39L248.3,712.78L248.41,711.32L248.52,709.99L248.63,708.79L248.74,707.72L248.85,706.75L248.96,705.89L249.07,705.12L249.18,704.43L249.29,703.82L249.4,703.29L249.51,702.81L249.62,702.39L249.74,702.02L249.85,701.7L249.96,701.42L250.07,701.18L250.18,700.97L250.29,700.78L250.4,700.62L250.51,700.49L250.62,700.37L250.73,700.27L250.84,700.18L250.95,700.11L251.06,700.05L251.17,700L251.28,699.95L251.39,699.91L251.5,699.88L251.61,699.86L251.72,699.83L251.83,699.82L251.94,699.8" fill="none" stroke="#2A5A9F" stroke-width="3.9" stroke-linecap="round" stroke-linejoin="round"/>
<path d="M287.58,1115.3L287.73,1114.91L287.87,1114.47L288.02,1113.97L288.16,1113.4L288.31,1112.77L288.46,1112.07L288.6,1111.28L288.75,1110.4L288.9,1109.43L289.04,1108.35L289.19,1107.15L289.34,1105.84L289.48,1104.39L289.63,1102.8L289.77,1101.06L289.92,1099.16L290.07,1097.1L290.21,1094.85L290.36,1092.42L290.5,1089.79L290.65,1086.96L290.8,1083.91L290.94,1080.65L291.09,1077.15L291.24,1073.42L291.38,1069.45L291.53,1065.23L291.67,1060.77L291.82,1056.05L291.97,1051.08L292.11,1045.85L292.26,1040.37L292.41,1034.64L292.55,1028.66L292.7,1022.44L292.85,1015.98L292.99,1009.3L293.14,1002.39L293.28,995.27L293.43,987.96L293.58,980.46L293.72,972.8L293.87,964.98L294.01,957.03L294.16,948.96L294.31,940.79L294.45,932.54L294.6,924.23L294.75,915.88L294.89,907.52L295.04,899.15L295.19,890.82L295.33,882.52L295.48,874.3L295.62,866.15L295.77,858.12L295.92,850.2L296.06,842.43L296.21,834.82L296.36,827.38L296.5,820.12L296.65,813.07L296.79,806.23L296.94,799.61L297.09,793.22L297.23,787.08L297.38,781.17L297.52,775.52L297.67,770.12L297.82,764.97L297.96,760.08L298.11,755.44L298.26,751.05L298.4,746.91L298.55,743.01L298.7,739.36L298.84,735.93L298.99,732.73L299.13,729.75L299.28,726.98L299.43,724.42L299.57,722.04L299.72,719.86L299.87,717.84L300.01,715.99L300.16,714.3L300.3,712.76L300.45,711.35L300.6,710.07L300.74,708.91L300.89,707.87L301.04,706.92L301.18,706.07L301.33,705.31L301.47,704.63L301.62,704.02L301.77,703.48L301.91,703L302.06,702.57L302.21,702.2L302.35,701.86L302.5,701.57L302.64,701.31L302.79,701.09L302.94,700.9L303.08,700.72L303.23,700.58L303.38,700.45L303.52,700.34L303.67,700.24L303.81,700.16L303.96,700.09L304.11,700.03L304.25,699.98L304.4,699.94L304.55,699.9L304.69,699.87L304.84,699.84L304.98,699.82L305.13,699.8" fill="none" stroke="#B04A64" stroke-width="3.9" stroke-linecap="round" stroke-linejoin="round"/>
<path d="M338.07,1115.3L338.29,1114.75L338.51,1114.15L338.73,1113.5L338.95,1112.8L339.17,1112.05L339.39,1111.23L339.61,1110.35L339.83,1109.4L340.05,1108.39L340.27,1107.3L340.5,1106.13L340.72,1104.88L340.94,1103.55L341.16,1102.12L341.38,1100.6L341.6,1098.99L341.82,1097.28L342.04,1095.46L342.26,1093.53L342.48,1091.49L342.7,1089.33L342.92,1087.05L343.14,1084.66L343.36,1082.13L343.58,1079.48L343.8,1076.7L344.02,1073.79L344.24,1070.73L344.46,1067.55L344.69,1064.22L344.91,1060.75L345.13,1057.14L345.35,1053.39L345.57,1049.49L345.79,1045.46L346.01,1041.28L346.23,1036.96L346.45,1032.51L346.67,1027.91L346.89,1023.18L347.11,1018.32L347.33,1013.33L347.55,1008.22L347.77,1002.98L347.99,997.63L348.21,992.16L348.43,986.59L348.65,980.92L348.87,975.15L349.1,969.3L349.32,963.36L349.54,957.35L349.76,951.28L349.98,945.14L350.2,938.95L350.42,932.73L350.64,926.46L350.86,920.17L351.08,913.87L351.3,907.55L351.52,901.23L351.74,894.93L351.96,888.64L352.18,882.37L352.4,876.15L352.62,869.96L352.84,863.82L353.06,857.75L353.28,851.74L353.5,845.8L353.73,839.95L353.95,834.18L354.17,828.51L354.39,822.94L354.61,817.47L354.83,812.12L355.05,806.88L355.27,801.77L355.49,796.78L355.71,791.92L355.93,787.19L356.15,782.59L356.37,778.14L356.59,773.82L356.81,769.64L357.03,765.61L357.25,761.71L357.47,757.96L357.69,754.35L357.92,750.88L358.14,747.55L358.36,744.37L358.58,741.31L358.8,738.4L359.02,735.62L359.24,732.97L359.46,730.44L359.68,728.05L359.9,725.77L360.12,723.61L360.34,721.57L360.56,719.64L360.78,717.82L361,716.11L361.22,714.5L361.44,712.98L361.66,711.55L361.88,710.22L362.1,708.97L362.33,707.8L362.55,706.71L362.77,705.7L362.99,704.75L363.21,703.87L363.43,703.05L363.65,702.3L363.87,701.6L364.09,700.95L364.31,700.35L364.53,699.8" fill="none" stroke="#2A5A9F" stroke-width="3.9" stroke-linecap="round" stroke-linejoin="round"/>
<path d="M392.34,1115.3L392.55,1114.86L392.76,1114.38L392.97,1113.86L393.19,1113.29L393.4,1112.66L393.61,1111.99L393.82,1111.25L394.03,1110.45L394.24,1109.58L394.45,1108.65L394.67,1107.64L394.88,1106.55L395.09,1105.38L395.3,1104.12L395.51,1102.76L395.72,1101.31L395.94,1099.76L396.15,1098.11L396.36,1096.34L396.57,1094.46L396.78,1092.46L396.99,1090.34L397.2,1088.09L397.42,1085.71L397.63,1083.19L397.84,1080.54L398.05,1077.74L398.26,1074.79L398.47,1071.7L398.68,1068.46L398.9,1065.07L399.11,1061.52L399.32,1057.81L399.53,1053.95L399.74,1049.94L399.95,1045.76L400.17,1041.43L400.38,1036.94L400.59,1032.3L400.8,1027.51L401.01,1022.56L401.22,1017.48L401.43,1012.24L401.65,1006.87L401.86,1001.37L402.07,995.74L402.28,989.99L402.49,984.12L402.7,978.14L402.92,972.06L403.13,965.89L403.34,959.63L403.55,953.29L403.76,946.89L403.97,940.42L404.18,933.91L404.4,927.35L404.61,920.77L404.82,914.16L405.03,907.55L405.24,900.94L405.45,894.33L405.66,887.75L405.88,881.19L406.09,874.68L406.3,868.21L406.51,861.81L406.72,855.47L406.93,849.21L407.14,843.04L407.36,836.96L407.57,830.98L407.78,825.11L407.99,819.36L408.2,813.73L408.41,808.23L408.63,802.86L408.84,797.62L409.05,792.54L409.26,787.59L409.47,782.8L409.68,778.16L409.89,773.67L410.11,769.34L410.32,765.16L410.53,761.15L410.74,757.29L410.95,753.58L411.16,750.03L411.38,746.64L411.59,743.4L411.8,740.31L412.01,737.36L412.22,734.56L412.43,731.91L412.64,729.39L412.86,727.01L413.07,724.76L413.28,722.64L413.49,720.64L413.7,718.76L413.91,716.99L414.12,715.34L414.34,713.79L414.55,712.34L414.76,710.98L414.97,709.72L415.18,708.55L415.39,707.46L415.61,706.45L415.82,705.52L416.03,704.65L416.24,703.85L416.45,703.11L416.66,702.44L416.87,701.81L417.09,701.24L417.3,700.72L417.51,700.24L417.72,699.8" fill="none" stroke="#B04A64" stroke-width="3.9" stroke-linecap="round" stroke-linejoin="round"/>
<path d="M450.66,1115.3H453.9V1110.31H456.6V1087.05H459.3V1019.73H462V881.79H464.7V758.39H467.4V707.69H470.1V699.8H476.04" fill="none" stroke="#2A5A9F" stroke-width="3.9" stroke-linecap="round" stroke-linejoin="round"/>
<path d="M498.99,1115.3H502.5V1102.42H505.2V1047.57H507.9V930.82H510.6V800.77H513.3V727.64H516V706.45H518.7V699.8H525.18" fill="none" stroke="#B04A64" stroke-width="3.9" stroke-linecap="round" stroke-linejoin="round"/>
<path d="M553.8,1115.3H556.5V1107.41H559.2V1087.46H561.9V1036.36H564.6V932.9H567.3V809.49H570V731.79H572.7V705.62H575.4V699.8H580.8" fill="none" stroke="#2A5A9F" stroke-width="3.9" stroke-linecap="round" stroke-linejoin="round"/>
<path d="M604.56,1115.3H607.8V1113.22H610.5V1099.93H613.2V1068.76H615.9V1005.61H618.6V905.06H621.3V799.1H624V732.62H626.7V707.28H629.4V699.8H636.15" fill="none" stroke="#B04A64" stroke-width="3.9" stroke-linecap="round" stroke-linejoin="round"/>
<path d="M658.83,1115.3H661.8V1113.22H664.5V1109.07H667.2V1094.94H669.9V1060.04H672.6V986.91H675.3V880.96H678V788.72H680.7V733.04H683.4V709.36H686.1V701.46H688.8V699.8H692.31" fill="none" stroke="#2A5A9F" stroke-width="3.9" stroke-linecap="round" stroke-linejoin="round"/>
<path d="M709.86,1115.3H713.1V1113.22H715.8V1104.5H718.5V1089.12H721.2V1058.38H723.9V1002.28H726.6V920.43H729.3V839.41H732V769.19H734.7V727.64H737.4V709.36H740.1V701.46H742.8V699.8H746.31" fill="none" stroke="#B04A64" stroke-width="3.9" stroke-linecap="round" stroke-linejoin="round"/>
<path d="M761.16,1115.3H764.4V1113.22H767.1V1109.9H769.8V1101.17H772.5V1081.23H775.2V1043.83H777.9V974.45H780.6V883.04H783.3V796.2H786V740.1H788.7V712.26H791.4V702.71H794.1V699.8H794.64" fill="none" stroke="#2A5A9F" stroke-width="3.9" stroke-linecap="round" stroke-linejoin="round"/>
<path d="M826.23,1115.3H829.2V1113.22H831.9V1102H834.6V1068.76H837.3V1003.12H840V906.3H842.7V817.39H845.4V752.57H848.1V718.91H850.8V704.79H853.5V699.8H859.71" fill="none" stroke="#B04A64" stroke-width="3.9" stroke-linecap="round" stroke-linejoin="round"/>
<path d="M872.13,1115.3H875.1V1113.64H877.8V1107.41H880.5V1092.86H883.2V1060.04H885.9V1005.19H888.6V926.25H891.3V838.99H894V769.19H896.7V725.56H899.4V705.62H902.1V701.05H904.8V699.8H905.61" fill="none" stroke="#2A5A9F" stroke-width="3.9" stroke-linecap="round" stroke-linejoin="round"/>
<path d="M933.42,1115.3L933.66,1115.22L933.91,1115.11L934.15,1115L934.39,1114.85L934.63,1114.69L934.88,1114.49L935.12,1114.27L935.36,1114L935.61,1113.69L935.85,1113.33L936.09,1112.92L936.34,1112.45L936.58,1111.9L936.82,1111.28L937.07,1110.56L937.31,1109.75L937.55,1108.84L937.79,1107.8L938.04,1106.64L938.28,1105.33L938.52,1103.87L938.77,1102.25L939.01,1100.44L939.25,1098.44L939.5,1096.23L939.74,1093.8L939.98,1091.13L940.22,1088.22L940.47,1085.05L940.71,1081.6L940.95,1077.87L941.2,1073.85L941.44,1069.52L941.68,1064.88L941.92,1059.92L942.17,1054.64L942.41,1049.03L942.65,1043.1L942.9,1036.84L943.14,1030.26L943.38,1023.37L943.63,1016.17L943.87,1008.67L944.11,1000.89L944.36,992.84L944.6,984.55L944.84,976.02L945.08,967.28L945.33,958.36L945.57,949.28L945.81,940.07L946.06,930.75L946.3,921.36L946.54,911.93L946.79,902.48L947.03,893.05L947.27,883.67L947.51,874.37L947.76,865.17L948,856.1L948.24,847.2L948.49,838.49L948.73,829.98L948.97,821.71L949.21,813.69L949.46,805.94L949.7,798.48L949.94,791.31L950.19,784.45L950.43,777.91L950.67,771.69L950.92,765.79L951.16,760.22L951.4,754.98L951.64,750.06L951.89,745.45L952.13,741.16L952.37,737.16L952.62,733.47L952.86,730.05L953.1,726.91L953.35,724.02L953.59,721.38L953.83,718.98L954.08,716.79L954.32,714.81L954.56,713.03L954.8,711.42L955.05,709.98L955.29,708.69L955.53,707.54L955.78,706.52L956.02,705.61L956.26,704.82L956.5,704.11L956.75,703.5L956.99,702.96L957.23,702.49L957.48,702.09L957.72,701.73L957.96,701.43L958.21,701.17L958.45,700.95L958.69,700.75L958.93,700.59L959.18,700.45L959.42,700.34L959.66,700.24L959.91,700.15L960.15,700.09L960.39,700.03L960.64,699.98L960.88,699.94L961.12,699.91L961.37,699.88L961.61,699.86L961.85,699.84L962.09,699.82L962.34,699.81L962.58,699.8" fill="none" stroke="#B04A64" stroke-width="3.9" stroke-linecap="round" stroke-linejoin="round"/>
<path d="M984.45,1115.3H985.8V1113.64H988.5V1110.31H991.2V1092.86H993.9V1047.57H996.6V961.15H999.3V859.77H1002V775.01H1004.7V726.81H1007.4V710.19H1010.1V704.37H1012.8V701.88H1015.5V699.8H1020.9" fill="none" stroke="#2A5A9F" stroke-width="3.9" stroke-linecap="round" stroke-linejoin="round"/>
<path d="M1040.88,1115.3L1041.13,1115.22L1041.38,1115.13L1041.63,1115.01L1041.88,1114.88L1042.13,1114.73L1042.38,1114.56L1042.63,1114.35L1042.88,1114.11L1043.13,1113.84L1043.38,1113.52L1043.63,1113.15L1043.88,1112.74L1044.13,1112.26L1044.38,1111.72L1044.63,1111.1L1044.88,1110.41L1045.13,1109.62L1045.38,1108.74L1045.63,1107.74L1045.88,1106.63L1046.12,1105.39L1046.37,1104.02L1046.62,1102.49L1046.87,1100.8L1047.12,1098.94L1047.37,1096.9L1047.62,1094.66L1047.87,1092.21L1048.12,1089.54L1048.37,1086.64L1048.62,1083.5L1048.87,1080.11L1049.12,1076.46L1049.37,1072.54L1049.62,1068.34L1049.87,1063.86L1050.12,1059.09L1050.37,1054.03L1050.62,1048.68L1050.87,1043.03L1051.12,1037.09L1051.37,1030.86L1051.62,1024.34L1051.87,1017.54L1052.12,1010.48L1052.37,1003.15L1052.62,995.58L1052.87,987.78L1053.12,979.76L1053.37,971.55L1053.62,963.15L1053.87,954.61L1054.12,945.92L1054.37,937.13L1054.62,928.26L1054.87,919.32L1055.12,910.35L1055.37,901.37L1055.62,892.41L1055.87,883.49L1056.11,874.65L1056.36,865.9L1056.61,857.27L1056.86,848.78L1057.11,840.46L1057.36,832.32L1057.61,824.39L1057.86,816.68L1058.11,809.21L1058.36,801.99L1058.61,795.03L1058.86,788.34L1059.11,781.94L1059.36,775.83L1059.61,770L1059.86,764.47L1060.11,759.24L1060.36,754.3L1060.61,749.65L1060.86,745.28L1061.11,741.2L1061.36,737.39L1061.61,733.84L1061.86,730.56L1062.11,727.51L1062.36,724.71L1062.61,722.13L1062.86,719.77L1063.11,717.61L1063.36,715.64L1063.61,713.85L1063.86,712.23L1064.11,710.76L1064.36,709.45L1064.61,708.26L1064.86,707.2L1065.11,706.25L1065.36,705.41L1065.61,704.66L1065.86,704L1066.1,703.41L1066.35,702.9L1066.6,702.45L1066.85,702.05L1067.1,701.71L1067.35,701.41L1067.6,701.15L1067.85,700.92L1068.1,700.73L1068.35,700.56L1068.6,700.42L1068.85,700.3L1069.1,700.19L1069.35,700.1L1069.6,700.03L1069.85,699.97L1070.1,699.91L1070.35,699.87L1070.6,699.83L1070.85,699.8" fill="none" stroke="#B04A64" stroke-width="3.9" stroke-linecap="round" stroke-linejoin="round"/>
<path d="M1094.61,1115.3L1094.83,1115.27L1095.06,1115.24L1095.28,1115.2L1095.5,1115.15L1095.72,1115.09L1095.95,1115.03L1096.17,1114.95L1096.39,1114.85L1096.61,1114.74L1096.84,1114.61L1097.06,1114.46L1097.28,1114.28L1097.51,1114.08L1097.73,1113.84L1097.95,1113.56L1098.17,1113.24L1098.4,1112.88L1098.62,1112.46L1098.84,1111.98L1099.07,1111.43L1099.29,1110.81L1099.51,1110.11L1099.73,1109.31L1099.96,1108.42L1100.18,1107.42L1100.4,1106.29L1100.62,1105.04L1100.85,1103.65L1101.07,1102.1L1101.29,1100.39L1101.52,1098.5L1101.74,1096.43L1101.96,1094.16L1102.18,1091.67L1102.41,1088.97L1102.63,1086.03L1102.85,1082.84L1103.07,1079.4L1103.3,1075.69L1103.52,1071.71L1103.74,1067.45L1103.97,1062.91L1104.19,1058.07L1104.41,1052.93L1104.63,1047.5L1104.86,1041.77L1105.08,1035.75L1105.3,1029.43L1105.52,1022.82L1105.75,1015.93L1105.97,1008.78L1106.19,1001.36L1106.42,993.69L1106.64,985.8L1106.86,977.69L1107.08,969.39L1107.31,960.91L1107.53,952.28L1107.75,943.52L1107.97,934.66L1108.2,925.71L1108.42,916.71L1108.64,907.69L1108.87,898.66L1109.09,889.66L1109.31,880.71L1109.53,871.84L1109.76,863.07L1109.98,854.43L1110.2,845.94L1110.43,837.63L1110.65,829.51L1110.87,821.6L1111.09,813.92L1111.32,806.49L1111.54,799.32L1111.76,792.41L1111.98,785.79L1112.21,779.45L1112.43,773.41L1112.65,767.66L1112.88,762.21L1113.1,757.06L1113.32,752.2L1113.54,747.64L1113.77,743.36L1113.99,739.36L1114.21,735.64L1114.43,732.18L1114.66,728.98L1114.88,726.03L1115.1,723.31L1115.33,720.81L1115.55,718.52L1115.77,716.44L1115.99,714.54L1116.22,712.82L1116.44,711.27L1116.66,709.86L1116.89,708.6L1117.11,707.47L1117.33,706.46L1117.55,705.56L1117.78,704.76L1118,704.05L1118.22,703.43L1118.44,702.88L1118.67,702.39L1118.89,701.97L1119.11,701.6L1119.34,701.28L1119.56,701L1119.78,700.76L1120,700.55L1120.23,700.37L1120.45,700.22L1120.67,700.09L1120.89,699.98L1121.12,699.88L1121.34,699.8" fill="none" stroke="#2A5A9F" stroke-width="3.9" stroke-linecap="round" stroke-linejoin="round"/>
<path d="M1148.07,1115.3L1148.3,1115.24L1148.53,1115.16L1148.77,1115.07L1149,1114.97L1149.23,1114.85L1149.46,1114.71L1149.69,1114.55L1149.92,1114.36L1150.16,1114.15L1150.39,1113.9L1150.62,1113.61L1150.85,1113.29L1151.08,1112.91L1151.31,1112.49L1151.55,1112.01L1151.78,1111.46L1152.01,1110.85L1152.24,1110.15L1152.47,1109.37L1152.7,1108.5L1152.94,1107.53L1153.17,1106.45L1153.4,1105.24L1153.63,1103.91L1153.86,1102.44L1154.1,1100.81L1154.33,1099.03L1154.56,1097.08L1154.79,1094.94L1155.02,1092.61L1155.25,1090.09L1155.49,1087.35L1155.72,1084.38L1155.95,1081.19L1156.18,1077.76L1156.41,1074.08L1156.64,1070.14L1156.88,1065.95L1157.11,1061.49L1157.34,1056.75L1157.57,1051.75L1157.8,1046.47L1158.04,1040.92L1158.27,1035.1L1158.5,1029.01L1158.73,1022.65L1158.96,1016.03L1159.19,1009.17L1159.43,1002.07L1159.66,994.74L1159.89,987.2L1160.12,979.45L1160.35,971.53L1160.58,963.44L1160.82,955.2L1161.05,946.84L1161.28,938.37L1161.51,929.82L1161.74,921.21L1161.97,912.56L1162.21,903.9L1162.44,895.24L1162.67,886.62L1162.9,878.06L1163.13,869.58L1163.37,861.2L1163.6,852.94L1163.83,844.82L1164.06,836.87L1164.29,829.09L1164.52,821.51L1164.76,814.15L1164.99,807.01L1165.22,800.11L1165.45,793.45L1165.68,787.05L1165.91,780.91L1166.15,775.05L1166.38,769.45L1166.61,764.13L1166.84,759.08L1167.07,754.3L1167.31,749.8L1167.54,745.56L1167.77,741.58L1168,737.86L1168.23,734.38L1168.46,731.15L1168.7,728.15L1168.93,725.38L1169.16,722.81L1169.39,720.45L1169.62,718.29L1169.85,716.31L1170.09,714.5L1170.32,712.85L1170.55,711.35L1170.78,709.99L1171.01,708.77L1171.24,707.67L1171.48,706.67L1171.71,705.79L1171.94,704.99L1172.17,704.29L1172.4,703.66L1172.64,703.1L1172.87,702.61L1173.1,702.18L1173.33,701.8L1173.56,701.46L1173.79,701.17L1174.03,700.92L1174.26,700.7L1174.49,700.5L1174.72,700.34L1174.95,700.2L1175.18,700.07L1175.42,699.97L1175.65,699.88L1175.88,699.8" fill="none" stroke="#B04A64" stroke-width="3.9" stroke-linecap="round" stroke-linejoin="round"/>
<path d="M1207.2,1115.3H1209.9V1104.91H1212.6V1069.6H1215.3V996.88H1218V892.59H1220.7V803.67H1223.4V741.77H1226.1V710.19H1228.8V699.8H1232.04" fill="none" stroke="#2A5A9F" stroke-width="3.9" stroke-linecap="round" stroke-linejoin="round"/>
<path d="M1256.34,1115.3L1256.58,1115.22L1256.83,1115.13L1257.07,1115.03L1257.31,1114.91L1257.56,1114.77L1257.8,1114.61L1258.04,1114.42L1258.28,1114.2L1258.53,1113.95L1258.77,1113.67L1259.01,1113.34L1259.26,1112.97L1259.5,1112.55L1259.74,1112.07L1259.98,1111.52L1260.23,1110.91L1260.47,1110.23L1260.71,1109.46L1260.96,1108.6L1261.2,1107.63L1261.44,1106.56L1261.69,1105.38L1261.93,1104.06L1262.17,1102.61L1262.42,1101.02L1262.66,1099.26L1262.9,1097.34L1263.14,1095.25L1263.39,1092.97L1263.63,1090.49L1263.87,1087.8L1264.12,1084.9L1264.36,1081.77L1264.6,1078.41L1264.85,1074.81L1265.09,1070.96L1265.33,1066.85L1265.57,1062.48L1265.82,1057.85L1266.06,1052.96L1266.3,1047.79L1266.55,1042.36L1266.79,1036.65L1267.03,1030.69L1267.28,1024.46L1267.52,1017.98L1267.76,1011.25L1268,1004.29L1268.25,997.1L1268.49,989.69L1268.73,982.08L1268.98,974.29L1269.22,966.33L1269.46,958.22L1269.7,949.98L1269.95,941.63L1270.19,933.19L1270.43,924.68L1270.68,916.13L1270.92,907.55L1271.16,898.97L1271.41,890.42L1271.65,881.91L1271.89,873.47L1272.13,865.12L1272.38,856.88L1272.62,848.77L1272.86,840.81L1273.11,833.02L1273.35,825.41L1273.59,818L1273.84,810.81L1274.08,803.85L1274.32,797.12L1274.57,790.64L1274.81,784.41L1275.05,778.45L1275.29,772.74L1275.54,767.31L1275.78,762.14L1276.02,757.25L1276.27,752.62L1276.51,748.25L1276.75,744.14L1277,740.29L1277.24,736.69L1277.48,733.33L1277.72,730.2L1277.97,727.3L1278.21,724.61L1278.45,722.13L1278.7,719.85L1278.94,717.76L1279.18,715.84L1279.42,714.08L1279.67,712.49L1279.91,711.04L1280.15,709.72L1280.4,708.54L1280.64,707.47L1280.88,706.5L1281.13,705.64L1281.37,704.87L1281.61,704.19L1281.86,703.58L1282.1,703.03L1282.34,702.55L1282.58,702.13L1282.83,701.76L1283.07,701.43L1283.31,701.15L1283.56,700.9L1283.8,700.68L1284.04,700.49L1284.28,700.33L1284.53,700.19L1284.77,700.07L1285.01,699.97L1285.26,699.88L1285.5,699.8" fill="none" stroke="#B04A64" stroke-width="3.9" stroke-linecap="round" stroke-linejoin="round"/>
<path d="M1306.56,1115.3L1306.78,1115.3L1307.01,1115.3L1307.23,1115.3L1307.45,1115.3L1307.67,1115.29L1307.9,1115.29L1308.12,1115.29L1308.34,1115.28L1308.56,1115.28L1308.79,1115.27L1309.01,1115.26L1309.23,1115.25L1309.46,1115.23L1309.68,1115.21L1309.9,1115.19L1310.12,1115.16L1310.35,1115.12L1310.57,1115.07L1310.79,1115.02L1311.02,1114.95L1311.24,1114.87L1311.46,1114.76L1311.68,1114.64L1311.91,1114.5L1312.13,1114.32L1312.35,1114.11L1312.57,1113.87L1312.8,1113.57L1313.02,1113.23L1313.24,1112.82L1313.47,1112.35L1313.69,1111.79L1313.91,1111.15L1314.13,1110.41L1314.36,1109.55L1314.58,1108.57L1314.8,1107.45L1315.02,1106.17L1315.25,1104.73L1315.47,1103.09L1315.69,1101.25L1315.92,1099.19L1316.14,1096.89L1316.36,1094.33L1316.58,1091.5L1316.81,1088.37L1317.03,1084.93L1317.25,1081.17L1317.47,1077.06L1317.7,1072.6L1317.92,1067.77L1318.14,1062.57L1318.37,1056.98L1318.59,1051.01L1318.81,1044.64L1319.03,1037.88L1319.26,1030.74L1319.48,1023.22L1319.7,1015.32L1319.92,1007.08L1320.15,998.49L1320.37,989.59L1320.59,980.4L1320.82,970.94L1321.04,961.25L1321.26,951.36L1321.48,941.3L1321.71,931.1L1321.93,920.82L1322.15,910.49L1322.38,900.14L1322.6,889.82L1322.82,879.57L1323.04,869.42L1323.27,859.42L1323.49,849.6L1323.71,840L1323.93,830.64L1324.16,821.56L1324.38,812.79L1324.6,804.33L1324.83,796.22L1325.05,788.47L1325.27,781.1L1325.49,774.11L1325.72,767.5L1325.94,761.29L1326.16,755.47L1326.38,750.03L1326.61,744.98L1326.83,740.3L1327.05,735.98L1327.28,732.01L1327.5,728.38L1327.72,725.06L1327.94,722.05L1328.17,719.33L1328.39,716.87L1328.61,714.67L1328.83,712.7L1329.06,710.94L1329.28,709.38L1329.5,708.01L1329.73,706.79L1329.95,705.73L1330.17,704.8L1330.39,703.99L1330.62,703.29L1330.84,702.68L1331.06,702.16L1331.29,701.71L1331.51,701.33L1331.73,701.01L1331.95,700.73L1332.18,700.5L1332.4,700.31L1332.62,700.14L1332.84,700.01L1333.07,699.89L1333.29,699.8" fill="none" stroke="#2A5A9F" stroke-width="3.9" stroke-linecap="round" stroke-linejoin="round"/>
<path d="M1364.34,1115.3L1364.56,1115.28L1364.77,1115.25L1364.99,1115.22L1365.2,1115.19L1365.42,1115.14L1365.64,1115.09L1365.85,1115.03L1366.07,1114.95L1366.28,1114.86L1366.5,1114.76L1366.72,1114.63L1366.93,1114.49L1367.15,1114.32L1367.36,1114.12L1367.58,1113.89L1367.8,1113.62L1368.01,1113.32L1368.23,1112.96L1368.44,1112.55L1368.66,1112.08L1368.88,1111.55L1369.09,1110.94L1369.31,1110.25L1369.52,1109.47L1369.74,1108.59L1369.96,1107.6L1370.17,1106.48L1370.39,1105.24L1370.6,1103.85L1370.82,1102.31L1371.04,1100.61L1371.25,1098.72L1371.47,1096.64L1371.68,1094.36L1371.9,1091.87L1372.12,1089.15L1372.33,1086.18L1372.55,1082.97L1372.76,1079.5L1372.98,1075.75L1373.2,1071.73L1373.41,1067.42L1373.63,1062.81L1373.84,1057.9L1374.06,1052.69L1374.28,1047.18L1374.49,1041.36L1374.71,1035.23L1374.92,1028.81L1375.14,1022.09L1375.36,1015.08L1375.57,1007.8L1375.79,1000.25L1376,992.46L1376.22,984.43L1376.44,976.18L1376.65,967.74L1376.87,959.12L1377.08,950.35L1377.3,941.45L1377.52,932.45L1377.73,923.38L1377.95,914.25L1378.16,905.11L1378.38,895.97L1378.6,886.87L1378.81,877.83L1379.03,868.88L1379.24,860.04L1379.46,851.34L1379.68,842.81L1379.89,834.46L1380.11,826.32L1380.32,818.4L1380.54,810.73L1380.76,803.31L1380.97,796.17L1381.19,789.31L1381.4,782.73L1381.62,776.46L1381.84,770.49L1382.05,764.82L1382.27,759.45L1382.48,754.4L1382.7,749.64L1382.92,745.18L1383.13,741.01L1383.35,737.13L1383.56,733.52L1383.78,730.18L1384,727.09L1384.21,724.25L1384.43,721.65L1384.64,719.26L1384.86,717.08L1385.08,715.1L1385.29,713.31L1385.51,711.69L1385.72,710.23L1385.94,708.91L1386.16,707.73L1386.37,706.68L1386.59,705.75L1386.8,704.92L1387.02,704.18L1387.24,703.53L1387.45,702.96L1387.67,702.46L1387.88,702.03L1388.1,701.65L1388.32,701.31L1388.53,701.03L1388.75,700.78L1388.96,700.57L1389.18,700.38L1389.4,700.23L1389.61,700.09L1389.83,699.98L1390.04,699.88L1390.26,699.8" fill="none" stroke="#B04A64" stroke-width="3.9" stroke-linecap="round" stroke-linejoin="round"/>
<path d="M1419.96,1115.3L1420.15,1115.22L1420.34,1115.13L1420.53,1115.02L1420.72,1114.89L1420.92,1114.74L1421.11,1114.57L1421.3,1114.37L1421.49,1114.13L1421.68,1113.86L1421.87,1113.55L1422.06,1113.2L1422.25,1112.79L1422.45,1112.33L1422.64,1111.8L1422.83,1111.2L1423.02,1110.52L1423.21,1109.76L1423.4,1108.9L1423.59,1107.94L1423.78,1106.87L1423.98,1105.67L1424.17,1104.34L1424.36,1102.86L1424.55,1101.23L1424.74,1099.43L1424.93,1097.45L1425.12,1095.29L1425.31,1092.92L1425.51,1090.34L1425.7,1087.54L1425.89,1084.51L1426.08,1081.23L1426.27,1077.7L1426.46,1073.91L1426.65,1069.85L1426.85,1065.52L1427.04,1060.9L1427.23,1056L1427.42,1050.82L1427.61,1045.34L1427.8,1039.58L1427.99,1033.53L1428.18,1027.2L1428.38,1020.59L1428.57,1013.71L1428.76,1006.58L1428.95,999.2L1429.14,991.58L1429.33,983.75L1429.52,975.71L1429.71,967.49L1429.9,959.1L1430.1,950.58L1430.29,941.93L1430.48,933.18L1430.67,924.37L1430.86,915.5L1431.05,906.61L1431.24,897.73L1431.43,888.87L1431.63,880.07L1431.82,871.35L1432.01,862.73L1432.2,854.23L1432.39,845.88L1432.58,837.7L1432.77,829.71L1432.96,821.93L1433.16,814.36L1433.35,807.04L1433.54,799.96L1433.73,793.15L1433.92,786.61L1434.11,780.34L1434.3,774.36L1434.49,768.66L1434.69,763.26L1434.88,758.14L1435.07,753.3L1435.26,748.76L1435.45,744.49L1435.64,740.49L1435.83,736.76L1436.02,733.29L1436.22,730.08L1436.41,727.1L1436.6,724.35L1436.79,721.82L1436.98,719.51L1437.17,717.39L1437.36,715.45L1437.56,713.69L1437.75,712.1L1437.94,710.66L1438.13,709.36L1438.32,708.19L1438.51,707.14L1438.7,706.21L1438.89,705.37L1439.09,704.63L1439.28,703.97L1439.47,703.39L1439.66,702.88L1439.85,702.43L1440.04,702.03L1440.23,701.69L1440.42,701.39L1440.62,701.13L1440.81,700.9L1441,700.71L1441.19,700.54L1441.38,700.4L1441.57,700.27L1441.76,700.17L1441.95,700.08L1442.14,700L1442.34,699.94L1442.53,699.88L1442.72,699.84L1442.91,699.8" fill="none" stroke="#2A5A9F" stroke-width="3.9" stroke-linecap="round" stroke-linejoin="round"/>
<path d="M1473.96,1115.3L1474.16,1115.26L1474.36,1115.21L1474.56,1115.16L1474.76,1115.09L1474.96,1115.01L1475.16,1114.92L1475.36,1114.81L1475.56,1114.68L1475.76,1114.54L1475.96,1114.36L1476.16,1114.16L1476.36,1113.93L1476.56,1113.67L1476.76,1113.36L1476.96,1113.01L1477.16,1112.61L1477.36,1112.15L1477.56,1111.62L1477.76,1111.03L1477.96,1110.36L1478.17,1109.61L1478.37,1108.76L1478.57,1107.81L1478.77,1106.74L1478.97,1105.55L1479.17,1104.24L1479.37,1102.77L1479.57,1101.16L1479.77,1099.38L1479.97,1097.42L1480.17,1095.27L1480.37,1092.93L1480.57,1090.38L1480.77,1087.6L1480.97,1084.6L1481.17,1081.35L1481.37,1077.85L1481.57,1074.09L1481.77,1070.07L1481.97,1065.77L1482.17,1061.19L1482.37,1056.33L1482.57,1051.18L1482.77,1045.75L1482.97,1040.03L1483.17,1034.02L1483.37,1027.73L1483.57,1021.16L1483.77,1014.33L1483.97,1007.24L1484.17,999.9L1484.37,992.32L1484.57,984.52L1484.77,976.52L1484.97,968.34L1485.17,959.99L1485.37,951.49L1485.57,942.87L1485.77,934.15L1485.97,925.36L1486.18,916.51L1486.38,907.64L1486.58,898.77L1486.78,889.92L1486.98,881.13L1487.18,872.4L1487.38,863.78L1487.58,855.28L1487.78,846.92L1487.98,838.73L1488.18,830.72L1488.38,822.91L1488.58,815.33L1488.78,807.98L1488.98,800.87L1489.18,794.03L1489.38,787.45L1489.58,781.15L1489.78,775.13L1489.98,769.39L1490.18,763.94L1490.38,758.78L1490.58,753.91L1490.78,749.32L1490.98,745.01L1491.18,740.97L1491.38,737.2L1491.58,733.69L1491.78,730.43L1491.98,727.42L1492.18,724.63L1492.38,722.07L1492.58,719.71L1492.78,717.56L1492.98,715.59L1493.18,713.81L1493.38,712.18L1493.58,710.71L1493.78,709.39L1493.98,708.2L1494.19,707.13L1494.39,706.17L1494.59,705.32L1494.79,704.56L1494.99,703.88L1495.19,703.29L1495.39,702.76L1495.59,702.3L1495.79,701.9L1495.99,701.54L1496.19,701.23L1496.39,700.96L1496.59,700.73L1496.79,700.53L1496.99,700.36L1497.19,700.21L1497.39,700.08L1497.59,699.97L1497.79,699.88L1497.99,699.8" fill="none" stroke="#B04A64" stroke-width="3.9" stroke-linecap="round" stroke-linejoin="round"/>
<path d="M1528.5,1115.3L1528.7,1115.27L1528.9,1115.23L1529.11,1115.19L1529.31,1115.13L1529.51,1115.07L1529.72,1114.99L1529.92,1114.9L1530.12,1114.8L1530.32,1114.67L1530.53,1114.53L1530.73,1114.36L1530.93,1114.17L1531.13,1113.94L1531.33,1113.68L1531.54,1113.37L1531.74,1113.03L1531.94,1112.63L1532.14,1112.17L1532.35,1111.66L1532.55,1111.07L1532.75,1110.4L1532.95,1109.64L1533.16,1108.8L1533.36,1107.84L1533.56,1106.77L1533.77,1105.58L1533.97,1104.26L1534.17,1102.78L1534.37,1101.15L1534.58,1099.36L1534.78,1097.38L1534.98,1095.21L1535.18,1092.83L1535.38,1090.25L1535.59,1087.43L1535.79,1084.38L1535.99,1081.08L1536.19,1077.52L1536.4,1073.7L1536.6,1069.61L1536.8,1065.23L1537,1060.57L1537.21,1055.62L1537.41,1050.37L1537.61,1044.83L1537.82,1039L1538.02,1032.87L1538.22,1026.46L1538.42,1019.77L1538.62,1012.8L1538.83,1005.58L1539.03,998.1L1539.23,990.38L1539.43,982.45L1539.64,974.31L1539.84,965.98L1540.04,957.49L1540.25,948.86L1540.45,940.11L1540.65,931.27L1540.85,922.36L1541.05,913.4L1541.26,904.43L1541.46,895.47L1541.66,886.54L1541.87,877.67L1542.07,868.89L1542.27,860.21L1542.47,851.68L1542.67,843.29L1542.88,835.09L1543.08,827.08L1543.28,819.29L1543.48,811.73L1543.69,804.42L1543.89,797.37L1544.09,790.58L1544.3,784.08L1544.5,777.86L1544.7,771.93L1544.9,766.29L1545.11,760.94L1545.31,755.89L1545.51,751.14L1545.71,746.66L1545.91,742.48L1546.12,738.56L1546.32,734.92L1546.52,731.54L1546.72,728.4L1546.93,725.51L1547.13,722.85L1547.33,720.4L1547.53,718.17L1547.74,716.13L1547.94,714.27L1548.14,712.59L1548.35,711.06L1548.55,709.69L1548.75,708.45L1548.95,707.34L1549.15,706.35L1549.36,705.47L1549.56,704.69L1549.76,703.99L1549.97,703.38L1550.17,702.84L1550.37,702.36L1550.57,701.94L1550.77,701.58L1550.98,701.26L1551.18,700.99L1551.38,700.75L1551.58,700.54L1551.79,700.37L1551.99,700.21L1552.19,700.09L1552.39,699.97L1552.6,699.88L1552.8,699.8" fill="none" stroke="#2A5A9F" stroke-width="3.9" stroke-linecap="round" stroke-linejoin="round"/>
<path d="M1578.72,1115.3L1578.93,1115.3L1579.14,1115.3L1579.35,1115.29L1579.57,1115.29L1579.78,1115.28L1579.99,1115.28L1580.2,1115.27L1580.41,1115.26L1580.62,1115.25L1580.84,1115.23L1581.05,1115.22L1581.26,1115.19L1581.47,1115.16L1581.68,1115.13L1581.89,1115.09L1582.1,1115.03L1582.32,1114.97L1582.53,1114.89L1582.74,1114.8L1582.95,1114.69L1583.16,1114.55L1583.37,1114.4L1583.58,1114.21L1583.8,1113.98L1584.01,1113.72L1584.22,1113.4L1584.43,1113.04L1584.64,1112.61L1584.85,1112.12L1585.07,1111.54L1585.28,1110.88L1585.49,1110.12L1585.7,1109.25L1585.91,1108.25L1586.12,1107.12L1586.33,1105.83L1586.55,1104.38L1586.76,1102.75L1586.97,1100.92L1587.18,1098.88L1587.39,1096.61L1587.6,1094.1L1587.81,1091.32L1588.03,1088.26L1588.24,1084.91L1588.45,1081.24L1588.66,1077.26L1588.87,1072.94L1589.08,1068.27L1589.29,1063.25L1589.51,1057.87L1589.72,1052.11L1589.93,1045.99L1590.14,1039.5L1590.35,1032.64L1590.56,1025.42L1590.78,1017.84L1590.99,1009.93L1591.2,1001.69L1591.41,993.14L1591.62,984.3L1591.83,975.21L1592.04,965.88L1592.26,956.34L1592.47,946.63L1592.68,936.77L1592.89,926.81L1593.1,916.78L1593.31,906.71L1593.52,896.64L1593.74,886.62L1593.95,876.67L1594.16,866.83L1594.37,857.14L1594.58,847.62L1594.79,838.32L1595.01,829.26L1595.22,820.46L1595.43,811.95L1595.64,803.75L1595.85,795.88L1596.06,788.35L1596.27,781.17L1596.49,774.36L1596.7,767.91L1596.91,761.83L1597.12,756.13L1597.33,750.79L1597.54,745.81L1597.75,741.19L1597.97,736.92L1598.18,732.97L1598.39,729.35L1598.6,726.04L1598.81,723.02L1599.02,720.27L1599.24,717.79L1599.45,715.55L1599.66,713.53L1599.87,711.73L1600.08,710.13L1600.29,708.7L1600.5,707.43L1600.72,706.32L1600.93,705.34L1601.14,704.48L1601.35,703.73L1601.56,703.08L1601.77,702.52L1601.98,702.03L1602.2,701.61L1602.41,701.26L1602.62,700.95L1602.83,700.69L1603.04,700.47L1603.25,700.29L1603.47,700.13L1603.68,700L1603.89,699.89L1604.1,699.8" fill="none" stroke="#B04A64" stroke-width="3.9" stroke-linecap="round" stroke-linejoin="round"/>
<path d="M1634.07,1115.3H1636.5V1114.05H1639.2V1102.84H1641.9V1065.02H1644.6V988.99H1647.3V903.81H1650V825.28H1652.7V757.55H1655.4V719.33H1658.1V702.71H1660.8V699.8H1664.58" fill="none" stroke="#2A5A9F" stroke-width="3.9" stroke-linecap="round" stroke-linejoin="round"/>
<path d="M1691.58,1115.3L1691.78,1115.21L1691.97,1115.11L1692.17,1114.98L1692.36,1114.83L1692.56,1114.65L1692.75,1114.44L1692.95,1114.2L1693.15,1113.91L1693.34,1113.57L1693.54,1113.18L1693.73,1112.73L1693.93,1112.2L1694.12,1111.6L1694.32,1110.9L1694.52,1110.11L1694.71,1109.2L1694.91,1108.17L1695.1,1107.01L1695.3,1105.69L1695.49,1104.22L1695.69,1102.56L1695.89,1100.72L1696.08,1098.67L1696.28,1096.39L1696.47,1093.88L1696.67,1091.12L1696.87,1088.08L1697.06,1084.77L1697.26,1081.16L1697.45,1077.24L1697.65,1073L1697.84,1068.44L1698.04,1063.53L1698.24,1058.28L1698.43,1052.68L1698.63,1046.73L1698.82,1040.43L1699.02,1033.78L1699.21,1026.79L1699.41,1019.46L1699.61,1011.8L1699.8,1003.83L1700,995.57L1700.19,987.03L1700.39,978.24L1700.58,969.21L1700.78,959.98L1700.98,950.57L1701.17,941.02L1701.37,931.35L1701.56,921.6L1701.76,911.8L1701.95,901.99L1702.15,892.2L1702.35,882.46L1702.54,872.81L1702.74,863.28L1702.93,853.9L1703.13,844.71L1703.32,835.72L1703.52,826.97L1703.72,818.47L1703.91,810.26L1704.11,802.35L1704.3,794.75L1704.5,787.47L1704.7,780.54L1704.89,773.95L1705.09,767.71L1705.28,761.82L1705.48,756.28L1705.67,751.09L1705.87,746.24L1706.07,741.73L1706.26,737.55L1706.46,733.69L1706.65,730.13L1706.85,726.86L1707.04,723.88L1707.24,721.16L1707.44,718.69L1707.63,716.45L1707.83,714.44L1708.02,712.63L1708.22,711L1708.41,709.56L1708.61,708.27L1708.81,707.13L1709,706.12L1709.2,705.24L1709.39,704.46L1709.59,703.78L1709.78,703.19L1709.98,702.68L1710.18,702.24L1710.37,701.85L1710.57,701.53L1710.76,701.25L1710.96,701.01L1711.15,700.8L1711.35,700.63L1711.55,700.49L1711.74,700.36L1711.94,700.26L1712.13,700.18L1712.33,700.1L1712.53,700.05L1712.72,700L1712.92,699.96L1713.11,699.92L1713.31,699.9L1713.5,699.88L1713.7,699.86L1713.9,699.84L1714.09,699.83L1714.29,699.82L1714.48,699.81L1714.68,699.81L1714.87,699.8L1715.07,699.8" fill="none" stroke="#B04A64" stroke-width="3.9" stroke-linecap="round" stroke-linejoin="round"/>
<path d="M1739.37,1115.3H1741.8V1113.22H1744.5V1105.74H1747.2V1089.95H1749.9V1055.88H1752.6V1002.28H1755.3V930.82H1758V850.21H1760.7V777.08H1763.4V729.72H1766.1V707.28H1768.8V701.46H1771.5V699.8H1775.01" fill="none" stroke="#2A5A9F" stroke-width="3.9" stroke-linecap="round" stroke-linejoin="round"/>
<path d="M1797.69,1115.3L1797.91,1115.22L1798.14,1115.13L1798.37,1115.02L1798.59,1114.9L1798.81,1114.75L1799.04,1114.58L1799.26,1114.39L1799.49,1114.16L1799.72,1113.9L1799.94,1113.6L1800.16,1113.26L1800.39,1112.87L1800.62,1112.43L1800.84,1111.92L1801.07,1111.35L1801.29,1110.7L1801.51,1109.97L1801.74,1109.15L1801.96,1108.24L1802.19,1107.21L1802.41,1106.07L1802.64,1104.81L1802.87,1103.4L1803.09,1101.85L1803.32,1100.15L1803.54,1098.27L1803.77,1096.22L1803.99,1093.98L1804.21,1091.53L1804.44,1088.88L1804.66,1086L1804.89,1082.89L1805.12,1079.55L1805.34,1075.95L1805.56,1072.1L1805.79,1067.98L1806.01,1063.59L1806.24,1058.93L1806.47,1054L1806.69,1048.78L1806.91,1043.29L1807.14,1037.51L1807.37,1031.46L1807.59,1025.14L1807.82,1018.55L1808.04,1011.71L1808.26,1004.61L1808.49,997.28L1808.71,989.73L1808.94,981.97L1809.16,974.02L1809.39,965.89L1809.62,957.61L1809.84,949.19L1810.07,940.66L1810.29,932.04L1810.52,923.35L1810.74,914.62L1810.96,905.87L1811.19,897.12L1811.41,888.41L1811.64,879.74L1811.87,871.16L1812.09,862.67L1812.31,854.3L1812.54,846.08L1812.76,838.02L1812.99,830.14L1813.22,822.46L1813.44,815L1813.66,807.76L1813.89,800.77L1814.12,794.02L1814.34,787.54L1814.57,781.33L1814.79,775.39L1815.01,769.72L1815.24,764.34L1815.46,759.24L1815.69,754.41L1815.91,749.86L1816.14,745.58L1816.37,741.57L1816.59,737.82L1816.82,734.33L1817.04,731.08L1817.27,728.06L1817.49,725.28L1817.71,722.71L1817.94,720.35L1818.16,718.18L1818.39,716.2L1818.62,714.39L1818.84,712.75L1819.06,711.26L1819.29,709.91L1819.51,708.7L1819.74,707.61L1819.97,706.63L1820.19,705.75L1820.41,704.97L1820.64,704.27L1820.87,703.66L1821.09,703.11L1821.32,702.63L1821.54,702.21L1821.76,701.84L1821.99,701.51L1822.21,701.23L1822.44,700.99L1822.66,700.77L1822.89,700.59L1823.12,700.43L1823.34,700.29L1823.57,700.17L1823.79,700.07L1824.02,699.99L1824.24,699.91L1824.46,699.85L1824.69,699.8" fill="none" stroke="#B04A64" stroke-width="3.9" stroke-linecap="round" stroke-linejoin="round"/>
<path d="M1850.88,1111.14H1853.85V1071.67H1856.55V988.99H1859.25V864.75H1861.95V758.39H1864.65V707.28H1867.35V699.8H1868.7" fill="none" stroke="#2A5A9F" stroke-width="3.9" stroke-linecap="round" stroke-linejoin="round"/>
<path d="M1903.53,1115.3H1909.2V1106.57H1911.9V1068.35H1914.6V975.28H1917.3V841.07H1920V737.61H1922.7V703.54H1925.4V699.8H1929.99" fill="none" stroke="#B04A64" stroke-width="3.9" stroke-linecap="round" stroke-linejoin="round"/>
<rect x="162" y="658" width="1837.2" height="499" fill="none" stroke="#222" stroke-width="1.6"/>
<path d="M162.3,1157v10M229.8,1157v5M297.3,1157v10M364.8,1157v5M432.3,1157v10M499.8,1157v5M567.3,1157v10M634.8,1157v5M702.3,1157v10M769.8,1157v5M837.3,1157v10M904.8,1157v5M972.3,1157v10M1039.8,1157v5M1107.3,1157v10M1174.8,1157v5M1242.3,1157v10M1309.8,1157v5M1377.3,1157v10M1444.8,1157v5M1512.3,1157v10M1579.8,1157v5M1647.3,1157v10M1714.8,1157v5M1782.3,1157v10M1849.8,1157v5M1917.3,1157v10M1984.8,1157v5M162,1156.85h-5M162,1115.3h-10M162,1073.75h-5M162,1032.2h-10M162,990.65h-5M162,949.1h-10M162,907.55h-5M162,866h-10M162,824.45h-5M162,782.9h-10M162,741.35h-5M162,699.8h-10M162,658.25h-5" stroke="#222" stroke-width="1.6" fill="none"/>
<text transform="translate(162.7 1193.9) scale(0.92 1)" font-size="27.69" text-anchor="middle">0</text>
<text transform="translate(297.7 1193.9) scale(0.92 1)" font-size="27.69" text-anchor="middle">5</text>
<text transform="translate(432.7 1193.9) scale(0.92 1)" font-size="27.69" text-anchor="middle">10</text>
<text transform="translate(567.7 1193.9) scale(0.92 1)" font-size="27.69" text-anchor="middle">15</text>
<text transform="translate(702.7 1193.9) scale(0.92 1)" font-size="27.69" text-anchor="middle">20</text>
<text transform="translate(837.7 1193.9) scale(0.92 1)" font-size="27.69" text-anchor="middle">25</text>
<text transform="translate(972.7 1193.9) scale(0.92 1)" font-size="27.69" text-anchor="middle">30</text>
<text transform="translate(1107.7 1193.9) scale(0.92 1)" font-size="27.69" text-anchor="middle">35</text>
<text transform="translate(1242.7 1193.9) scale(0.92 1)" font-size="27.69" text-anchor="middle">40</text>
<text transform="translate(1377.7 1193.9) scale(0.92 1)" font-size="27.69" text-anchor="middle">45</text>
<text transform="translate(1512.7 1193.9) scale(0.92 1)" font-size="27.69" text-anchor="middle">50</text>
<text transform="translate(1647.7 1193.9) scale(0.92 1)" font-size="27.69" text-anchor="middle">55</text>
<text transform="translate(1782.7 1193.9) scale(0.92 1)" font-size="27.69" text-anchor="middle">60</text>
<text transform="translate(1917.7 1193.9) scale(0.92 1)" font-size="27.69" text-anchor="middle">65</text>
<text transform="translate(144.6 1124.9) scale(0.92 1)" font-size="27.69" text-anchor="end">0</text>
<text transform="translate(144.6 1041.8) scale(0.92 1)" font-size="27.69" text-anchor="end">20</text>
<text transform="translate(144.6 958.7) scale(0.92 1)" font-size="27.69" text-anchor="end">40</text>
<text transform="translate(144.6 875.6) scale(0.92 1)" font-size="27.69" text-anchor="end">60</text>
<text transform="translate(144.6 792.5) scale(0.92 1)" font-size="27.69" text-anchor="end">80</text>
<text transform="translate(144.6 709.4) scale(0.92 1)" font-size="27.69" text-anchor="end">100</text>
<text x="45.3" y="888.2" font-size="33" text-anchor="middle" transform="rotate(-90 45.3 888.2)">Cumulative probability (%)</text>
<text x="1081" y="1248.8" font-size="33" text-anchor="middle">G (nS)</text>
<text x="-1.2" y="662.7" font-size="45.2" font-weight="bold">c</text>
</g>
<g id="panel-d">
<text x="3.8" y="1332.4" font-size="45" font-weight="bold">d</text>
<path d="M1307,1485.5L1410.3,1394.3L1416,1414L1703,1703L1724.3,1728.4L1418.6,1693Z" fill="#D9E9F9" stroke="#D9E9F9" stroke-width="3" stroke-linejoin="round"/>
<rect x="32.1" y="1478.1" width="165.9" height="165.8" fill="#FDE8E7"/>
<rect x="42.3" y="1488" width="165.8" height="165.8" fill="#C17B86"/>
<rect x="52.6" y="1500.8" width="165.2" height="165" fill="#000"/>
<g clip-path="url(#clipimg)"><g filter="url(#blur)" shape-rendering="crispEdges"><rect x="99.42" y="1524.16" width="6.19" height="6.19" fill="#828282"/><rect x="105.31" y="1524.16" width="6.19" height="6.19" fill="#c8c8c8"/><rect x="111.2" y="1524.16" width="6.19" height="6.19" fill="#c8c8c8"/><rect x="117.09" y="1524.16" width="6.19" height="6.19" fill="#787878"/><rect x="122.98" y="1524.16" width="6.19" height="6.19" fill="#646464"/><rect x="128.87" y="1524.16" width="6.19" height="6.19" fill="#505050"/><rect x="134.76" y="1524.16" width="6.19" height="6.19" fill="#3c3c3c"/><rect x="87.64" y="1530.05" width="6.19" height="6.19" fill="#0f0f0f"/><rect x="93.53" y="1530.05" width="6.19" height="6.19" fill="#969696"/><rect x="99.42" y="1530.05" width="6.19" height="6.19" fill="#ffffff"/><rect x="105.31" y="1530.05" width="6.19" height="6.19" fill="#ffffff"/><rect x="111.2" y="1530.05" width="6.19" height="6.19" fill="#ffffff"/><rect x="117.09" y="1530.05" width="6.19" height="6.19" fill="#ffffff"/><rect x="122.98" y="1530.05" width="6.19" height="6.19" fill="#ffffff"/><rect x="128.87" y="1530.05" width="6.19" height="6.19" fill="#ffffff"/><rect x="134.76" y="1530.05" width="6.19" height="6.19" fill="#e6e6e6"/><rect x="140.65" y="1530.05" width="6.19" height="6.19" fill="#c8c8c8"/><rect x="146.54" y="1530.05" width="6.19" height="6.19" fill="#505050"/><rect x="87.64" y="1535.94" width="6.19" height="6.19" fill="#828282"/><rect x="93.53" y="1535.94" width="6.19" height="6.19" fill="#ffffff"/><rect x="99.42" y="1535.94" width="6.19" height="6.19" fill="#ffffff"/><rect x="105.31" y="1535.94" width="6.19" height="6.19" fill="#ffffff"/><rect x="111.2" y="1535.94" width="6.19" height="6.19" fill="#ffffff"/><rect x="117.09" y="1535.94" width="6.19" height="6.19" fill="#ffffff"/><rect x="122.98" y="1535.94" width="6.19" height="6.19" fill="#ffffff"/><rect x="128.87" y="1535.94" width="6.19" height="6.19" fill="#ffffff"/><rect x="134.76" y="1535.94" width="6.19" height="6.19" fill="#ffffff"/><rect x="140.65" y="1535.94" width="6.19" height="6.19" fill="#ffffff"/><rect x="146.54" y="1535.94" width="6.19" height="6.19" fill="#c8c8c8"/><rect x="152.43" y="1535.94" width="6.19" height="6.19" fill="#3c3c3c"/><rect x="87.64" y="1541.83" width="6.19" height="6.19" fill="#8c8c8c"/><rect x="93.53" y="1541.83" width="6.19" height="6.19" fill="#ffffff"/><rect x="99.42" y="1541.83" width="6.19" height="6.19" fill="#aaaaaa"/><rect x="105.31" y="1541.83" width="6.19" height="6.19" fill="#6e6e6e"/><rect x="111.2" y="1541.83" width="6.19" height="6.19" fill="#6e6e6e"/><rect x="117.09" y="1541.83" width="6.19" height="6.19" fill="#1e1e1e"/><rect x="122.98" y="1541.83" width="6.19" height="6.19" fill="#1e1e1e"/><rect x="128.87" y="1541.83" width="6.19" height="6.19" fill="#c8c8c8"/><rect x="134.76" y="1541.83" width="6.19" height="6.19" fill="#ffffff"/><rect x="140.65" y="1541.83" width="6.19" height="6.19" fill="#ffffff"/><rect x="146.54" y="1541.83" width="6.19" height="6.19" fill="#ffffff"/><rect x="152.43" y="1541.83" width="6.19" height="6.19" fill="#969696"/><rect x="87.64" y="1547.72" width="6.19" height="6.19" fill="#3c3c3c"/><rect x="93.53" y="1547.72" width="6.19" height="6.19" fill="#828282"/><rect x="134.76" y="1547.72" width="6.19" height="6.19" fill="#646464"/><rect x="140.65" y="1547.72" width="6.19" height="6.19" fill="#ffffff"/><rect x="146.54" y="1547.72" width="6.19" height="6.19" fill="#ffffff"/><rect x="152.43" y="1547.72" width="6.19" height="6.19" fill="#e6e6e6"/><rect x="158.32" y="1547.72" width="6.19" height="6.19" fill="#323232"/><rect x="140.65" y="1553.61" width="6.19" height="6.19" fill="#969696"/><rect x="146.54" y="1553.61" width="6.19" height="6.19" fill="#ffffff"/><rect x="152.43" y="1553.61" width="6.19" height="6.19" fill="#ffffff"/><rect x="158.32" y="1553.61" width="6.19" height="6.19" fill="#505050"/><rect x="140.65" y="1559.5" width="6.19" height="6.19" fill="#505050"/><rect x="146.54" y="1559.5" width="6.19" height="6.19" fill="#ffffff"/><rect x="152.43" y="1559.5" width="6.19" height="6.19" fill="#ffffff"/><rect x="158.32" y="1559.5" width="6.19" height="6.19" fill="#505050"/><rect x="140.65" y="1565.39" width="6.19" height="6.19" fill="#3c3c3c"/><rect x="146.54" y="1565.39" width="6.19" height="6.19" fill="#ffffff"/><rect x="152.43" y="1565.39" width="6.19" height="6.19" fill="#ffffff"/><rect x="158.32" y="1565.39" width="6.19" height="6.19" fill="#3c3c3c"/><rect x="140.65" y="1571.28" width="6.19" height="6.19" fill="#323232"/><rect x="146.54" y="1571.28" width="6.19" height="6.19" fill="#f0f0f0"/><rect x="152.43" y="1571.28" width="6.19" height="6.19" fill="#ffffff"/><rect x="158.32" y="1571.28" width="6.19" height="6.19" fill="#3c3c3c"/><rect x="140.65" y="1577.17" width="6.19" height="6.19" fill="#323232"/><rect x="146.54" y="1577.17" width="6.19" height="6.19" fill="#ffffff"/><rect x="152.43" y="1577.17" width="6.19" height="6.19" fill="#ffffff"/><rect x="158.32" y="1577.17" width="6.19" height="6.19" fill="#505050"/><rect x="93.53" y="1583.06" width="6.19" height="6.19" fill="#282828"/><rect x="99.42" y="1583.06" width="6.19" height="6.19" fill="#3c3c3c"/><rect x="105.31" y="1583.06" width="6.19" height="6.19" fill="#3c3c3c"/><rect x="111.2" y="1583.06" width="6.19" height="6.19" fill="#3c3c3c"/><rect x="140.65" y="1583.06" width="6.19" height="6.19" fill="#3c3c3c"/><rect x="146.54" y="1583.06" width="6.19" height="6.19" fill="#ffffff"/><rect x="152.43" y="1583.06" width="6.19" height="6.19" fill="#ffffff"/><rect x="158.32" y="1583.06" width="6.19" height="6.19" fill="#6e6e6e"/><rect x="87.64" y="1588.95" width="6.19" height="6.19" fill="#5a5a5a"/><rect x="93.53" y="1588.95" width="6.19" height="6.19" fill="#c8c8c8"/><rect x="99.42" y="1588.95" width="6.19" height="6.19" fill="#ffffff"/><rect x="105.31" y="1588.95" width="6.19" height="6.19" fill="#ffffff"/><rect x="111.2" y="1588.95" width="6.19" height="6.19" fill="#ffffff"/><rect x="117.09" y="1588.95" width="6.19" height="6.19" fill="#787878"/><rect x="122.98" y="1588.95" width="6.19" height="6.19" fill="#3c3c3c"/><rect x="140.65" y="1588.95" width="6.19" height="6.19" fill="#828282"/><rect x="146.54" y="1588.95" width="6.19" height="6.19" fill="#ffffff"/><rect x="152.43" y="1588.95" width="6.19" height="6.19" fill="#ffffff"/><rect x="158.32" y="1588.95" width="6.19" height="6.19" fill="#464646"/><rect x="87.64" y="1594.84" width="6.19" height="6.19" fill="#ffffff"/><rect x="93.53" y="1594.84" width="6.19" height="6.19" fill="#ffffff"/><rect x="99.42" y="1594.84" width="6.19" height="6.19" fill="#ffffff"/><rect x="105.31" y="1594.84" width="6.19" height="6.19" fill="#ffffff"/><rect x="111.2" y="1594.84" width="6.19" height="6.19" fill="#ffffff"/><rect x="117.09" y="1594.84" width="6.19" height="6.19" fill="#ffffff"/><rect x="122.98" y="1594.84" width="6.19" height="6.19" fill="#ffffff"/><rect x="128.87" y="1594.84" width="6.19" height="6.19" fill="#969696"/><rect x="134.76" y="1594.84" width="6.19" height="6.19" fill="#646464"/><rect x="140.65" y="1594.84" width="6.19" height="6.19" fill="#ffffff"/><rect x="146.54" y="1594.84" width="6.19" height="6.19" fill="#ffffff"/><rect x="152.43" y="1594.84" width="6.19" height="6.19" fill="#ffffff"/><rect x="158.32" y="1594.84" width="6.19" height="6.19" fill="#323232"/><rect x="87.64" y="1600.73" width="6.19" height="6.19" fill="#e6e6e6"/><rect x="93.53" y="1600.73" width="6.19" height="6.19" fill="#ffffff"/><rect x="99.42" y="1600.73" width="6.19" height="6.19" fill="#ffffff"/><rect x="105.31" y="1600.73" width="6.19" height="6.19" fill="#f0f0f0"/><rect x="111.2" y="1600.73" width="6.19" height="6.19" fill="#aaaaaa"/><rect x="117.09" y="1600.73" width="6.19" height="6.19" fill="#ffffff"/><rect x="122.98" y="1600.73" width="6.19" height="6.19" fill="#ffffff"/><rect x="128.87" y="1600.73" width="6.19" height="6.19" fill="#ffffff"/><rect x="134.76" y="1600.73" width="6.19" height="6.19" fill="#ffffff"/><rect x="140.65" y="1600.73" width="6.19" height="6.19" fill="#ffffff"/><rect x="146.54" y="1600.73" width="6.19" height="6.19" fill="#ffffff"/><rect x="152.43" y="1600.73" width="6.19" height="6.19" fill="#dcdcdc"/><rect x="193.66" y="1600.73" width="6.19" height="6.19" fill="#323232"/><rect x="199.55" y="1600.73" width="6.19" height="6.19" fill="#505050"/><rect x="87.64" y="1606.62" width="6.19" height="6.19" fill="#787878"/><rect x="93.53" y="1606.62" width="6.19" height="6.19" fill="#ffffff"/><rect x="99.42" y="1606.62" width="6.19" height="6.19" fill="#ffffff"/><rect x="105.31" y="1606.62" width="6.19" height="6.19" fill="#969696"/><rect x="111.2" y="1606.62" width="6.19" height="6.19" fill="#141414"/><rect x="117.09" y="1606.62" width="6.19" height="6.19" fill="#141414"/><rect x="122.98" y="1606.62" width="6.19" height="6.19" fill="#f0f0f0"/><rect x="128.87" y="1606.62" width="6.19" height="6.19" fill="#ffffff"/><rect x="134.76" y="1606.62" width="6.19" height="6.19" fill="#ffffff"/><rect x="140.65" y="1606.62" width="6.19" height="6.19" fill="#ffffff"/><rect x="146.54" y="1606.62" width="6.19" height="6.19" fill="#ffffff"/><rect x="152.43" y="1606.62" width="6.19" height="6.19" fill="#ffffff"/><rect x="158.32" y="1606.62" width="6.19" height="6.19" fill="#ffffff"/><rect x="164.21" y="1606.62" width="6.19" height="6.19" fill="#bebebe"/><rect x="170.1" y="1606.62" width="6.19" height="6.19" fill="#f0f0f0"/><rect x="175.99" y="1606.62" width="6.19" height="6.19" fill="#f0f0f0"/><rect x="181.88" y="1606.62" width="6.19" height="6.19" fill="#f0f0f0"/><rect x="187.77" y="1606.62" width="6.19" height="6.19" fill="#f0f0f0"/><rect x="193.66" y="1606.62" width="6.19" height="6.19" fill="#f0f0f0"/><rect x="199.55" y="1606.62" width="6.19" height="6.19" fill="#f0f0f0"/><rect x="93.53" y="1612.51" width="6.19" height="6.19" fill="#464646"/><rect x="99.42" y="1612.51" width="6.19" height="6.19" fill="#e6e6e6"/><rect x="105.31" y="1612.51" width="6.19" height="6.19" fill="#ffffff"/><rect x="111.2" y="1612.51" width="6.19" height="6.19" fill="#ffffff"/><rect x="117.09" y="1612.51" width="6.19" height="6.19" fill="#aaaaaa"/><rect x="122.98" y="1612.51" width="6.19" height="6.19" fill="#ffffff"/><rect x="128.87" y="1612.51" width="6.19" height="6.19" fill="#ffffff"/><rect x="134.76" y="1612.51" width="6.19" height="6.19" fill="#ffffff"/><rect x="140.65" y="1612.51" width="6.19" height="6.19" fill="#ffffff"/><rect x="146.54" y="1612.51" width="6.19" height="6.19" fill="#ffffff"/><rect x="152.43" y="1612.51" width="6.19" height="6.19" fill="#ffffff"/><rect x="158.32" y="1612.51" width="6.19" height="6.19" fill="#ffffff"/><rect x="164.21" y="1612.51" width="6.19" height="6.19" fill="#ffffff"/><rect x="170.1" y="1612.51" width="6.19" height="6.19" fill="#ffffff"/><rect x="175.99" y="1612.51" width="6.19" height="6.19" fill="#ffffff"/><rect x="181.88" y="1612.51" width="6.19" height="6.19" fill="#ffffff"/><rect x="187.77" y="1612.51" width="6.19" height="6.19" fill="#f0f0f0"/><rect x="193.66" y="1612.51" width="6.19" height="6.19" fill="#969696"/><rect x="199.55" y="1612.51" width="6.19" height="6.19" fill="#3c3c3c"/><rect x="99.42" y="1618.4" width="6.19" height="6.19" fill="#646464"/><rect x="105.31" y="1618.4" width="6.19" height="6.19" fill="#e6e6e6"/><rect x="111.2" y="1618.4" width="6.19" height="6.19" fill="#ffffff"/><rect x="117.09" y="1618.4" width="6.19" height="6.19" fill="#ffffff"/><rect x="122.98" y="1618.4" width="6.19" height="6.19" fill="#ffffff"/><rect x="128.87" y="1618.4" width="6.19" height="6.19" fill="#ffffff"/><rect x="134.76" y="1618.4" width="6.19" height="6.19" fill="#c8c8c8"/><rect x="140.65" y="1618.4" width="6.19" height="6.19" fill="#505050"/><rect x="146.54" y="1618.4" width="6.19" height="6.19" fill="#282828"/><rect x="152.43" y="1618.4" width="6.19" height="6.19" fill="#282828"/><rect x="158.32" y="1618.4" width="6.19" height="6.19" fill="#282828"/><rect x="164.21" y="1618.4" width="6.19" height="6.19" fill="#828282"/><rect x="170.1" y="1618.4" width="6.19" height="6.19" fill="#8c8c8c"/><rect x="175.99" y="1618.4" width="6.19" height="6.19" fill="#646464"/><rect x="181.88" y="1618.4" width="6.19" height="6.19" fill="#323232"/><rect x="187.77" y="1618.4" width="6.19" height="6.19" fill="#282828"/><rect x="111.2" y="1624.29" width="6.19" height="6.19" fill="#3c3c3c"/><rect x="117.09" y="1624.29" width="6.19" height="6.19" fill="#6e6e6e"/><rect x="122.98" y="1624.29" width="6.19" height="6.19" fill="#6e6e6e"/><rect x="128.87" y="1624.29" width="6.19" height="6.19" fill="#282828"/></g></g>
<path d="M139.1,1559.5V1512.3H186.3V1559.5Z" fill="#FDE8E7" fill-opacity="0.5" stroke="#AFABAB" stroke-width="7.4" stroke-dasharray="22.2 7.4"/>
<path d="M148.9,1569.6V1522.3H196.2V1569.6Z" fill="#C17B86" fill-opacity="0.75" stroke="#AFABAB" stroke-width="7.4" stroke-dasharray="22.2 7.4"/>
<path d="M158.8,1579.7V1532.3H206.2V1579.7Z" fill="#000" fill-opacity="0.55" stroke="#AFABAB" stroke-width="7.4" stroke-dasharray="22.2 7.4"/>
<rect x="296.9" y="1413.6" width="283.9" height="283.9" fill="#D9E9F9"/>
<rect x="306.8" y="1423.4" width="283.9" height="283.9" fill="#7795C1"/>
<rect x="316.9" y="1433.7" width="283.9" height="283.9" fill="#D9E9F9"/>
<rect x="328.5" y="1448.1" width="283.9" height="283.9" fill="#7795C1"/>
<rect x="338.5" y="1458" width="283.9" height="283.9" fill="#D9E9F9"/>
<rect x="348.4" y="1468.1" width="283.9" height="283.9" fill="#7795C1"/>
<path d="M186.3,1512.3L388.5,1545.2" fill="none" stroke="#AFABAB" stroke-width="7.4" stroke-dasharray="22.2 7.4"/>
<path d="M206.2,1579.7L388.5,1545.2" fill="none" stroke="#AFABAB" stroke-width="7.4" stroke-dasharray="22.2 7.4"/>
<path d="M511.8,1691.3V1645.4H558.8V1691.3Z" fill="none" stroke="#000" stroke-width="7.4" stroke-dasharray="22.2 7.4"/>
<rect x="666" y="1466.1" width="213.2" height="213" fill="#C17B86"/>
<rect x="676.1" y="1475.9" width="213.2" height="213" fill="#FDE8E7"/>
<rect x="686.4" y="1485.8" width="213.2" height="213" fill="#C17B86"/>
<rect x="698" y="1497.6" width="213.2" height="213" fill="#FDE8E7"/>
<rect x="708.1" y="1507.6" width="213.2" height="213" fill="#C17B86"/>
<rect x="718.2" y="1517.7" width="213.2" height="213" fill="#FDE8E7"/>
<path d="M558.8,1645.4L759.1,1677.8" fill="none" stroke="#000" stroke-width="7.4" stroke-dasharray="22.2 7.4"/>
<path d="M558.8,1691.3L759.1,1677.8" fill="none" stroke="#000" stroke-width="7.4" stroke-dasharray="22.2 7.4"/>
<path d="M734.2,1569.5V1534.5H769.5V1569.5Z" fill="#fff" fill-opacity="0.9" stroke="#000" stroke-width="7.4" stroke-dasharray="22.2 7.4"/>
<path d="M744.25,1579.55V1544.55H779.55V1579.55Z" fill="#FDE8E7" fill-opacity="0.6" stroke="#000" stroke-width="7.4" stroke-dasharray="22.2 7.4"/>
<path d="M754.3,1589.6V1554.6H789.6V1589.6Z" fill="#C17B86" fill-opacity="0.5" stroke="#000" stroke-width="7.4" stroke-dasharray="22.2 7.4"/>
<path d="M764.35,1599.65V1564.65H799.65V1599.65Z" fill="#FDE8E7" fill-opacity="0.6" stroke="#000" stroke-width="7.4" stroke-dasharray="22.2 7.4"/>
<path d="M774.4,1609.7V1574.7H809.7V1609.7Z" fill="#C17B86" fill-opacity="0.5" stroke="#000" stroke-width="7.4" stroke-dasharray="22.2 7.4"/>
<path d="M784.45,1619.75V1584.75H819.75V1619.75Z" fill="#FDE8E7" fill-opacity="0.6" stroke="#000" stroke-width="7.4" stroke-dasharray="22.2 7.4"/>
<rect x="1212.1" y="1485" width="94.6" height="94.5" fill="#FDE8E7"/>
<rect x="1222.1" y="1495.03" width="94.6" height="94.5" fill="#C17B86"/>
<rect x="1232.1" y="1505.06" width="94.6" height="94.5" fill="#FDE8E7"/>
<rect x="1242.1" y="1515.09" width="94.6" height="94.5" fill="#C17B86"/>
<rect x="1252.1" y="1525.12" width="94.6" height="94.5" fill="#FDE8E7"/>
<rect x="1262.1" y="1535.15" width="94.6" height="94.5" fill="#C17B86"/>
<rect x="1273" y="1545.18" width="94.6" height="94.5" fill="#FDE8E7"/>
<rect x="1283" y="1555.21" width="94.6" height="94.5" fill="#C17B86"/>
<rect x="1293" y="1565.24" width="94.6" height="94.5" fill="#FDE8E7"/>
<rect x="1303" y="1575.27" width="94.6" height="94.5" fill="#C17B86"/>
<rect x="1313" y="1585.3" width="94.6" height="94.5" fill="#FDE8E7"/>
<rect x="1323" y="1595.33" width="94.6" height="94.5" fill="#C17B86"/>
<rect x="953.3" y="1454.5" width="165.6" height="165.5" fill="#7795C1"/>
<rect x="963.35" y="1464.57" width="165.6" height="165.5" fill="#D9E9F9"/>
<rect x="973.4" y="1474.64" width="165.6" height="165.5" fill="#7795C1"/>
<rect x="983.45" y="1484.71" width="165.6" height="165.5" fill="#D9E9F9"/>
<rect x="993.5" y="1494.78" width="165.6" height="165.5" fill="#7795C1"/>
<rect x="1003.55" y="1504.85" width="165.6" height="165.5" fill="#D9E9F9"/>
<rect x="1012.2" y="1514.92" width="165.6" height="165.5" fill="#7795C1"/>
<rect x="1022.25" y="1524.99" width="165.6" height="165.5" fill="#D9E9F9"/>
<rect x="1032.3" y="1535.06" width="165.6" height="165.5" fill="#7795C1"/>
<rect x="1042.35" y="1545.13" width="165.6" height="165.5" fill="#D9E9F9"/>
<rect x="1052.4" y="1555.2" width="165.6" height="165.5" fill="#7795C1"/>
<rect x="1062.45" y="1565.27" width="165.6" height="165.5" fill="#D9E9F9"/>
<path d="M769.5,1534.5L1100.8,1597.2" fill="none" stroke="#000" stroke-width="7.4" stroke-dasharray="22.2 7.4"/>
<path d="M819.7,1619.8L1100.8,1597.2" fill="none" stroke="#000" stroke-width="7.4" stroke-dasharray="22.2 7.4"/>
<path d="M1147.6,1680V1655.2H1171.5V1680Z" fill="none" stroke="#000" stroke-width="7.4" stroke-dasharray="22.2 7.4"/>
<path d="M1171.5,1655.2L1352.7,1645" fill="none" stroke="#000" stroke-width="7.4" stroke-dasharray="22.2 7.4"/>
<path d="M1171.5,1680L1352.7,1645" fill="none" stroke="#000" stroke-width="7.4" stroke-dasharray="22.2 7.4"/>
<path d="M1410.3,1394.3L1697.6,1393L1805.5,1505L1937.6,1658L1945,1676.6L1713.5,1731L1701.2,1704.8L1414.2,1415.8Z" fill="#FDE8E7"/>
<path d="M1414.2,1415.8L1424,1407.4L1804.2,1509.1L1716,1711L1701.2,1704.8Z" fill="#C17B86" fill-opacity="0.5"/>
<circle cx="1411.5" cy="1418.5" r="23.6" fill="#D9E9F9" stroke="#7795C1" stroke-width="7.2"/>
<circle cx="1458.6" cy="1465.7" r="23.6" fill="#D9E9F9" stroke="#7795C1" stroke-width="7.2"/>
<circle cx="1505.6" cy="1512.8" r="23.6" fill="#D9E9F9" stroke="#7795C1" stroke-width="7.2"/>
<circle cx="1556.3" cy="1563.8" r="23.6" fill="#D9E9F9" stroke="#7795C1" stroke-width="7.2"/>
<circle cx="1603.7" cy="1611.2" r="23.6" fill="#D9E9F9" stroke="#7795C1" stroke-width="7.2"/>
<circle cx="1651.3" cy="1660.4" r="23.6" fill="#D9E9F9" stroke="#7795C1" stroke-width="7.2"/>
<circle cx="1698.5" cy="1707.5" r="23.6" fill="#D9E9F9" stroke="#7795C1" stroke-width="7.2"/>
<circle cx="1709.3" cy="1413" r="23.6" fill="#FDE8E7" stroke="#C17B86" stroke-width="7.2"/>
<text transform="translate(1709.3 1423.8) scale(0.92 1)" font-size="31.31" text-anchor="middle">0</text>
<circle cx="1756.4" cy="1460.1" r="23.6" fill="#FDE8E7" stroke="#C17B86" stroke-width="7.2"/>
<text transform="translate(1756.4 1470.9) scale(0.92 1)" font-size="31.31" text-anchor="middle">1</text>
<circle cx="1804.2" cy="1509.1" r="23.6" fill="#FDE8E7" stroke="#C17B86" stroke-width="7.2"/>
<text transform="translate(1804.2 1519.9) scale(0.92 1)" font-size="31.31" text-anchor="middle">2</text>
<circle cx="1890.3" cy="1606.3" r="23.6" fill="#FDE8E7" stroke="#C17B86" stroke-width="7.2"/>
<text transform="translate(1890.3 1617.1) scale(0.92 1)" font-size="31.31" text-anchor="middle">8</text>
<circle cx="1937.6" cy="1655.2" r="23.6" fill="#FDE8E7" stroke="#C17B86" stroke-width="7.2"/>
<text transform="translate(1937.6 1666) scale(0.92 1)" font-size="31.31" text-anchor="middle">9</text>
<rect x="1834.25" y="1541.35" width="4.3" height="4.3" transform="rotate(48 1836.4 1543.5)"/>
<rect x="1840.55" y="1548.95" width="4.3" height="4.3" transform="rotate(48 1842.7 1551.1)"/>
<rect x="1846.85" y="1556.45" width="4.3" height="4.3" transform="rotate(48 1849 1558.6)"/>
<text x="1536.5" y="1534.2" font-size="29.3">Accuracy=97.81%</text>
<text x="179.2" y="1349.4" font-size="29.55">Convolution</text>
<text x="586.5" y="1348.2" font-size="29.55">Pooling</text>
<text x="849.8" y="1348.2" font-size="29.55">Convolution</text>
<text x="1123.9" y="1348.2" font-size="29.55">Pooling</text>
<text x="1463.2" y="1349.1" font-size="29.55">Fully connected</text>
<text x="144.5" y="1715.1" font-size="29.55" text-anchor="middle">Input image</text>
<text x="144" y="1751" font-size="29.55" text-anchor="middle">28<tspan font-size="38" dy="5">×</tspan><tspan dy="-5">&#8203;</tspan>28</text>
<text x="485.5" y="1797.6" font-size="29.55" text-anchor="middle">C1</text>
<text x="482.8" y="1846" font-size="29.55" text-anchor="middle">(26<tspan font-size="38" dy="5">×</tspan><tspan dy="-5">&#8203;</tspan>26<tspan font-size="38" dy="5">×</tspan><tspan dy="-5">&#8203;</tspan>16)</text>
<text x="817.8" y="1797.6" font-size="29.55" text-anchor="middle">P1</text>
<text x="829.4" y="1846" font-size="29.55" text-anchor="middle">(9<tspan font-size="38" dy="5">×</tspan><tspan dy="-5">&#8203;</tspan>9<tspan font-size="38" dy="5">×</tspan><tspan dy="-5">&#8203;</tspan>16)</text>
<text x="1151.2" y="1797.6" font-size="29.55" text-anchor="middle">C2</text>
<text x="1151.6" y="1846" font-size="29.55" text-anchor="middle">(7<tspan font-size="38" dy="5">×</tspan><tspan dy="-5">&#8203;</tspan>7<tspan font-size="38" dy="5">×</tspan><tspan dy="-5">&#8203;</tspan>32)</text>
<text x="1377" y="1797.6" font-size="29.55" text-anchor="middle">P2</text>
<text x="1384.2" y="1846" font-size="29.55" text-anchor="middle">(4<tspan font-size="38" dy="5">×</tspan><tspan dy="-5">&#8203;</tspan> 4 <tspan font-size="38" dy="5">×</tspan><tspan dy="-5">&#8203;</tspan>32)</text>
<text x="1813.5" y="1846" font-size="29.55" text-anchor="middle">(512<tspan font-size="38" dy="5">×</tspan><tspan dy="-5">&#8203;</tspan>10)</text>
</g>
</svg>
</body>
</html>
